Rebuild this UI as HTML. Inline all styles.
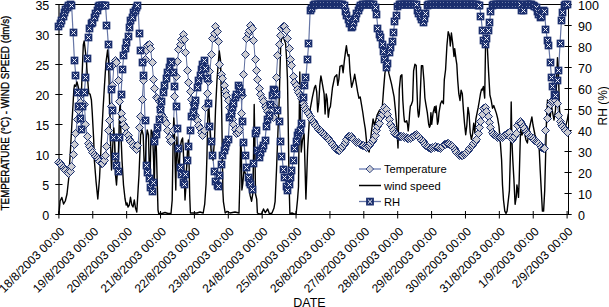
<!DOCTYPE html>
<html><head><meta charset="utf-8"><style>
html,body{margin:0;padding:0;background:#fff;}
svg{display:block;}
text{font-family:"Liberation Sans", sans-serif;fill:#000;}
</style></head><body>
<svg width="609" height="307" viewBox="0 0 609 307">
<rect width="609" height="307" fill="#fff"/>
<line x1="59" y1="4.5" x2="568.5" y2="4.5" stroke="#000" stroke-width="1"/>
<line x1="59" y1="214.5" x2="568.5" y2="214.5" stroke="#000" stroke-width="1"/>
<line x1="59" y1="4.5" x2="59" y2="214.5" stroke="#000" stroke-width="1.2"/>
<line x1="568.5" y1="4.5" x2="568.5" y2="214.5" stroke="#000" stroke-width="1"/>
<line x1="55.3" y1="214.5" x2="62.5" y2="214.5" stroke="#000" stroke-width="1"/>
<line x1="55.3" y1="184.5" x2="62.5" y2="184.5" stroke="#000" stroke-width="1"/>
<line x1="55.3" y1="154.5" x2="62.5" y2="154.5" stroke="#000" stroke-width="1"/>
<line x1="55.3" y1="124.5" x2="62.5" y2="124.5" stroke="#000" stroke-width="1"/>
<line x1="55.3" y1="94.5" x2="62.5" y2="94.5" stroke="#000" stroke-width="1"/>
<line x1="55.3" y1="64.5" x2="62.5" y2="64.5" stroke="#000" stroke-width="1"/>
<line x1="55.3" y1="34.5" x2="62.5" y2="34.5" stroke="#000" stroke-width="1"/>
<line x1="55.3" y1="4.5" x2="62.5" y2="4.5" stroke="#000" stroke-width="1"/>
<line x1="564.5" y1="214.5" x2="571.7" y2="214.5" stroke="#000" stroke-width="1"/>
<line x1="564.5" y1="193.5" x2="571.7" y2="193.5" stroke="#000" stroke-width="1"/>
<line x1="564.5" y1="172.5" x2="571.7" y2="172.5" stroke="#000" stroke-width="1"/>
<line x1="564.5" y1="151.5" x2="571.7" y2="151.5" stroke="#000" stroke-width="1"/>
<line x1="564.5" y1="130.5" x2="571.7" y2="130.5" stroke="#000" stroke-width="1"/>
<line x1="564.5" y1="109.5" x2="571.7" y2="109.5" stroke="#000" stroke-width="1"/>
<line x1="564.5" y1="88.5" x2="571.7" y2="88.5" stroke="#000" stroke-width="1"/>
<line x1="564.5" y1="67.5" x2="571.7" y2="67.5" stroke="#000" stroke-width="1"/>
<line x1="564.5" y1="46.5" x2="571.7" y2="46.5" stroke="#000" stroke-width="1"/>
<line x1="564.5" y1="25.5" x2="571.7" y2="25.5" stroke="#000" stroke-width="1"/>
<line x1="564.5" y1="4.5" x2="571.7" y2="4.5" stroke="#000" stroke-width="1"/>
<line x1="58.90" y1="211" x2="58.90" y2="218.5" stroke="#000" stroke-width="1"/>
<line x1="92.78" y1="211" x2="92.78" y2="218.5" stroke="#000" stroke-width="1"/>
<line x1="126.66" y1="211" x2="126.66" y2="218.5" stroke="#000" stroke-width="1"/>
<line x1="160.54" y1="211" x2="160.54" y2="218.5" stroke="#000" stroke-width="1"/>
<line x1="194.42" y1="211" x2="194.42" y2="218.5" stroke="#000" stroke-width="1"/>
<line x1="228.30" y1="211" x2="228.30" y2="218.5" stroke="#000" stroke-width="1"/>
<line x1="262.18" y1="211" x2="262.18" y2="218.5" stroke="#000" stroke-width="1"/>
<line x1="296.06" y1="211" x2="296.06" y2="218.5" stroke="#000" stroke-width="1"/>
<line x1="329.94" y1="211" x2="329.94" y2="218.5" stroke="#000" stroke-width="1"/>
<line x1="363.82" y1="211" x2="363.82" y2="218.5" stroke="#000" stroke-width="1"/>
<line x1="397.70" y1="211" x2="397.70" y2="218.5" stroke="#000" stroke-width="1"/>
<line x1="431.58" y1="211" x2="431.58" y2="218.5" stroke="#000" stroke-width="1"/>
<line x1="465.46" y1="211" x2="465.46" y2="218.5" stroke="#000" stroke-width="1"/>
<line x1="499.34" y1="211" x2="499.34" y2="218.5" stroke="#000" stroke-width="1"/>
<line x1="533.22" y1="211" x2="533.22" y2="218.5" stroke="#000" stroke-width="1"/>
<line x1="567.10" y1="211" x2="567.10" y2="218.5" stroke="#000" stroke-width="1"/>
<g>
<path d="M58.90,162.00 L60.31,163.60 L61.72,165.41 L63.13,167.58 L64.55,169.25 L65.96,170.66 L67.37,172.76 L68.78,173.95 L70.19,171.18 L71.61,166.00 L73.02,154.00 L74.43,144.00 L75.84,133.60 L77.25,119.00 L78.66,110.00 L80.08,102.00 L81.49,94.00 L82.90,93.00 L84.31,104.00 L85.72,124.00 L87.13,136.00 L88.55,143.00 L89.96,146.50 L91.37,149.90 L92.78,152.50 L94.19,154.40 L95.60,156.00 L97.02,157.50 L98.43,159.50 L99.84,161.30 L101.25,163.00 L102.66,163.50 L104.07,160.00 L105.49,155.00 L106.90,146.00 L108.31,130.00 L109.72,120.00 L111.13,106.00 L112.54,85.55 L113.96,64.01 L115.37,60.00 L116.78,62.00 L118.19,80.80 L119.60,101.20 L121.01,113.00 L122.43,119.90 L123.84,124.00 L125.25,127.20 L126.66,133.47 L128.07,135.65 L129.48,139.94 L130.90,141.84 L132.31,143.90 L133.72,146.07 L135.13,148.17 L136.54,149.28 L137.95,145.63 L139.37,127.50 L140.78,116.50 L142.19,99.30 L143.60,80.00 L145.01,59.50 L146.42,50.00 L147.84,45.50 L149.25,44.50 L150.66,48.80 L152.07,62.50 L153.48,79.10 L154.89,88.80 L156.31,97.60 L157.72,98.57 L159.13,101.45 L160.54,107.85 L161.95,114.31 L163.36,117.19 L164.78,120.30 L166.19,123.75 L167.60,130.61 L169.01,137.13 L170.42,141.37 L171.83,140.98 L173.25,130.07 L174.66,96.90 L176.07,76.60 L177.48,61.00 L178.89,49.30 L180.30,44.40 L181.72,39.50 L183.13,34.60 L184.54,39.50 L185.95,52.20 L187.36,70.80 L188.77,82.20 L190.19,91.00 L191.60,99.80 L193.01,103.00 L194.42,105.70 L195.83,115.98 L197.24,120.73 L198.66,125.39 L200.07,128.98 L201.48,132.28 L202.89,135.16 L204.30,130.99 L205.71,107.87 L207.13,93.75 L208.54,81.61 L209.95,71.80 L211.36,54.20 L212.77,38.60 L214.18,33.70 L215.60,26.80 L217.01,31.70 L218.42,41.50 L219.83,64.90 L221.24,74.70 L222.65,78.61 L224.07,85.74 L225.48,91.17 L226.89,95.65 L228.30,100.80 L229.71,107.42 L231.12,113.95 L232.54,119.78 L233.95,124.49 L235.36,129.13 L236.77,133.59 L238.18,132.77 L239.59,129.41 L241.01,113.43 L242.42,95.85 L243.83,74.16 L245.24,54.06 L246.65,38.43 L248.06,33.82 L249.48,30.18 L250.89,25.20 L252.30,28.92 L253.71,40.76 L255.12,59.09 L256.53,70.82 L257.94,79.88 L259.36,88.53 L260.77,94.56 L262.18,98.06 L263.59,101.91 L265.00,106.03 L266.42,108.77 L267.83,111.13 L269.24,113.35 L270.65,114.82 L272.06,116.21 L273.47,117.51 L274.88,107.38 L276.30,77.60 L277.71,55.20 L279.12,44.40 L280.53,35.60 L281.94,28.80 L283.36,26.80 L284.77,26.00 L286.18,30.70 L287.59,38.60 L289.00,48.30 L290.41,59.10 L291.83,65.90 L293.24,76.60 L294.65,82.00 L296.06,85.90 L297.47,89.80 L298.88,92.70 L300.30,95.70 L301.71,98.00 L303.12,103.64 L304.53,106.26 L305.94,109.08 L307.35,111.58 L308.77,113.70 L310.18,116.25 L311.59,119.08 L313.00,121.35 L314.41,123.47 L315.82,125.64 L317.24,127.73 L318.65,129.15 L320.06,130.56 L321.47,131.97 L322.88,133.38 L324.29,134.79 L325.70,136.18 L327.12,137.53 L328.53,138.93 L329.94,140.34 L331.35,142.33 L332.76,144.44 L334.18,146.56 L335.59,148.59 L337.00,150.00 L338.41,150.79 L339.82,150.09 L341.23,148.75 L342.65,146.63 L344.06,144.51 L345.47,142.40 L346.88,139.74 L348.29,136.92 L349.70,136.70 L351.12,136.81 L352.53,138.23 L353.94,139.64 L355.35,141.05 L356.76,142.18 L358.17,142.89 L359.59,143.59 L361.00,144.30 L362.41,145.00 L363.82,145.71 L365.23,146.42 L366.64,147.08 L368.06,146.37 L369.47,145.40 L370.88,143.28 L372.29,141.16 L373.70,139.05 L375.11,135.56 L376.53,130.73 L377.94,126.81 L379.35,123.37 L380.76,117.85 L382.17,114.41 L383.58,110.30 L385.00,107.78 L386.41,109.87 L387.82,114.43 L389.23,119.08 L390.64,124.31 L392.05,127.89 L393.47,130.99 L394.88,133.08 L396.29,134.65 L397.70,135.80 L399.11,136.05 L400.52,136.29 L401.94,136.54 L403.35,136.78 L404.76,137.06 L406.17,137.63 L407.58,138.19 L408.99,138.76 L410.41,138.42 L411.82,137.39 L413.23,136.37 L414.64,135.35 L416.05,134.32 L417.46,135.10 L418.88,136.71 L420.29,138.36 L421.70,140.12 L423.11,141.89 L424.52,143.65 L425.93,145.15 L427.35,146.40 L428.76,147.65 L430.17,148.90 L431.58,148.51 L432.99,147.80 L434.40,147.10 L435.81,146.58 L437.23,147.09 L438.64,147.61 L440.05,148.13 L441.46,147.70 L442.87,146.20 L444.29,144.84 L445.70,144.07 L447.11,143.30 L448.52,143.96 L449.93,144.84 L451.34,145.72 L452.76,146.71 L454.17,148.64 L455.58,150.57 L456.99,152.49 L458.40,154.05 L459.81,155.11 L461.23,155.95 L462.64,155.67 L464.05,154.67 L465.46,153.42 L466.87,152.18 L468.28,150.88 L469.70,148.86 L471.11,146.85 L472.52,145.18 L473.93,143.77 L475.34,141.84 L476.75,139.72 L478.17,133.17 L479.58,127.49 L480.99,121.64 L482.40,114.50 L483.81,108.68 L485.22,107.95 L486.64,111.41 L488.05,116.39 L489.46,122.10 L490.87,127.78 L492.28,132.35 L493.69,134.19 L495.11,135.60 L496.52,136.31 L497.93,137.01 L499.34,137.72 L500.75,137.97 L502.16,137.27 L503.58,136.56 L504.99,135.86 L506.40,134.70 L507.81,133.29 L509.22,132.32 L510.63,137.23 L512.05,139.25 L513.46,137.84 L514.87,136.43 L516.28,133.71 L517.69,125.69 L519.10,122.37 L520.52,121.72 L521.93,123.81 L523.34,126.15 L524.75,128.92 L526.16,131.22 L527.57,133.27 L528.99,134.69 L530.40,136.10 L531.81,137.51 L533.22,138.92 L534.63,140.19 L536.04,141.15 L537.46,142.10 L538.87,143.47 L540.28,145.06 L541.69,147.15 L543.10,148.33 L544.51,148.00 L545.93,130.00 L547.34,118.00 L548.75,110.00 L550.16,104.00 L551.57,101.00 L552.98,100.00 L554.40,99.50 L555.81,100.00 L557.22,103.00 L558.63,115.00 L560.04,121.00 L561.45,124.50 L562.87,126.50 L564.28,128.50 L565.69,130.50 L567.10,132.00" fill="none" stroke="#5f6f9f" stroke-width="1"/>
<path d="M58.90,26.00 L60.31,23.50 L61.72,20.00 L63.13,16.50 L64.55,12.70 L65.96,9.50 L67.37,7.00 L68.78,5.50 L70.19,4.80 L71.61,5.00 L73.02,32.00 L74.43,60.50 L75.84,75.40 L77.25,92.00 L78.66,106.00 L80.08,118.00 L81.49,129.00 L82.90,106.00 L84.31,92.00 L85.72,77.00 L87.13,58.30 L88.55,37.80 L89.96,28.80 L91.37,23.30 L92.78,22.00 L94.19,17.70 L95.60,13.30 L97.02,10.00 L98.43,6.60 L99.84,5.50 L101.25,5.00 L102.66,5.00 L104.07,5.00 L105.49,5.20 L106.90,25.00 L108.31,44.00 L109.72,66.50 L111.13,89.00 L112.54,110.00 L113.96,137.00 L115.37,156.50 L116.78,165.50 L118.19,171.20 L119.60,137.00 L121.01,94.30 L122.43,69.30 L123.84,55.00 L125.25,48.50 L126.66,42.00 L128.07,36.70 L129.48,27.30 L130.90,20.50 L132.31,17.60 L133.72,12.70 L135.13,10.00 L136.54,7.50 L137.95,5.50 L139.37,33.50 L140.78,50.50 L142.19,62.00 L143.60,75.00 L145.01,120.00 L146.42,165.40 L147.84,172.00 L149.25,178.10 L150.66,187.90 L152.07,191.80 L153.48,182.00 L154.89,141.00 L156.31,134.80 L157.72,127.00 L159.13,119.00 L160.54,109.00 L161.95,101.60 L163.36,92.80 L164.78,85.00 L166.19,78.00 L167.60,72.00 L169.01,67.00 L170.42,61.00 L171.83,62.00 L173.25,72.00 L174.66,86.00 L176.07,106.00 L177.48,128.00 L178.89,148.00 L180.30,167.70 L181.72,174.50 L183.13,182.00 L184.54,184.30 L185.95,174.50 L187.36,160.00 L188.77,146.00 L190.19,130.00 L191.60,116.00 L193.01,112.00 L194.42,105.00 L195.83,100.00 L197.24,87.00 L198.66,80.00 L200.07,75.00 L201.48,69.00 L202.89,64.00 L204.30,60.50 L205.71,68.00 L207.13,78.00 L208.54,103.00 L209.95,126.00 L211.36,141.00 L212.77,155.50 L214.18,171.60 L215.60,181.80 L217.01,185.00 L218.42,186.20 L219.83,175.00 L221.24,164.30 L222.65,155.50 L224.07,150.00 L225.48,146.70 L226.89,142.00 L228.30,139.00 L229.71,117.70 L231.12,113.30 L232.54,107.40 L233.95,103.00 L235.36,97.20 L236.77,94.30 L238.18,85.50 L239.59,88.40 L241.01,92.80 L242.42,121.70 L243.83,142.30 L245.24,155.50 L246.65,167.20 L248.06,177.40 L249.48,182.00 L250.89,184.80 L252.30,189.20 L253.71,163.30 L255.12,133.60 L256.53,130.40 L257.94,150.00 L259.36,157.00 L260.77,152.30 L262.18,148.00 L263.59,145.80 L265.00,140.10 L266.42,126.30 L267.83,119.80 L269.24,115.20 L270.65,104.40 L272.06,95.60 L273.47,89.80 L274.88,90.00 L276.30,94.60 L277.71,110.30 L279.12,121.00 L280.53,141.00 L281.94,156.00 L283.36,169.60 L284.77,177.00 L286.18,186.00 L287.59,190.50 L289.00,184.00 L290.41,177.00 L291.83,170.00 L293.24,160.00 L294.65,148.60 L296.06,141.00 L297.47,135.30 L298.88,132.00 L300.30,130.20 L301.71,123.30 L303.12,97.00 L304.53,85.00 L305.94,77.00 L307.35,59.50 L308.77,43.00 L310.18,10.00 L311.59,8.00 L313.00,5.00 L314.41,4.60 L315.82,4.60 L317.24,4.60 L318.65,4.60 L320.06,4.60 L321.47,4.60 L322.88,4.60 L324.29,4.60 L325.70,4.60 L327.12,4.60 L328.53,4.60 L329.94,4.60 L331.35,4.60 L332.76,4.60 L334.18,4.60 L335.59,4.60 L337.00,4.60 L338.41,4.60 L339.82,4.60 L341.23,4.60 L342.65,4.80 L344.06,5.50 L345.47,11.00 L346.88,15.00 L348.29,19.00 L349.70,23.00 L351.12,27.00 L352.53,26.00 L353.94,22.00 L355.35,18.00 L356.76,13.50 L358.17,10.00 L359.59,7.00 L361.00,5.00 L362.41,4.80 L363.82,4.79 L365.23,4.60 L366.64,4.60 L368.06,4.60 L369.47,4.60 L370.88,4.60 L372.29,4.60 L373.70,4.60 L375.11,7.76 L376.53,14.61 L377.94,28.94 L379.35,34.87 L380.76,37.20 L382.17,44.20 L383.58,51.66 L385.00,59.80 L386.41,67.31 L387.82,63.32 L389.23,52.25 L390.64,47.08 L392.05,41.79 L393.47,32.07 L394.88,21.05 L396.29,15.22 L397.70,6.88 L399.11,4.88 L400.52,4.86 L401.94,4.84 L403.35,4.81 L404.76,4.79 L406.17,4.77 L407.58,4.74 L408.99,4.72 L410.41,4.70 L411.82,4.67 L413.23,4.65 L414.64,4.63 L416.05,4.61 L417.46,10.88 L418.88,13.46 L420.29,16.27 L421.70,19.72 L423.11,22.08 L424.52,18.44 L425.93,13.68 L427.35,5.86 L428.76,4.89 L430.17,4.88 L431.58,4.88 L432.99,4.87 L434.40,4.86 L435.81,4.85 L437.23,4.84 L438.64,4.84 L440.05,4.83 L441.46,4.82 L442.87,4.81 L444.29,4.80 L445.70,4.79 L447.11,4.79 L448.52,4.78 L449.93,4.77 L451.34,4.76 L452.76,4.75 L454.17,4.75 L455.58,4.74 L456.99,4.73 L458.40,4.72 L459.81,4.71 L461.23,4.70 L462.64,4.70 L464.05,4.69 L465.46,4.68 L466.87,4.67 L468.28,4.66 L469.70,4.66 L471.11,4.65 L472.52,4.64 L473.93,4.63 L475.34,4.62 L476.75,4.61 L478.17,5.00 L479.58,5.00 L480.99,16.00 L482.40,30.80 L483.81,40.00 L485.22,44.50 L486.64,38.80 L488.05,30.00 L489.46,22.80 L490.87,11.40 L492.28,5.00 L493.69,4.89 L495.11,4.88 L496.52,4.86 L497.93,4.84 L499.34,4.83 L500.75,4.81 L502.16,4.80 L503.58,4.78 L504.99,4.77 L506.40,4.75 L507.81,4.74 L509.22,4.72 L510.63,4.71 L512.05,4.69 L513.46,4.68 L514.87,4.66 L516.28,4.65 L517.69,4.63 L519.10,4.62 L520.52,4.60 L521.93,10.15 L523.34,10.30 L524.75,4.60 L526.16,4.60 L527.57,4.60 L528.99,4.60 L530.40,4.60 L531.81,4.60 L533.22,5.00 L534.63,6.00 L536.04,7.00 L537.46,11.40 L538.87,14.80 L540.28,17.10 L541.69,16.00 L543.10,10.30 L544.51,11.40 L545.93,29.60 L547.34,40.00 L548.75,45.60 L550.16,62.00 L551.57,77.60 L552.98,86.00 L554.40,94.00 L555.81,95.90 L557.22,80.00 L558.63,70.00 L560.04,43.30 L561.45,20.50 L562.87,12.50 L564.28,5.00 L565.69,4.60 L567.10,4.60" fill="none" stroke="#6676a6" stroke-width="1.2"/>
<path d="M58.90,214.00 L60.10,201.00 L61.80,197.50 L63.60,204.00 L65.30,201.00 L67.00,194.00 L68.70,178.50 L70.40,151.00 L72.10,120.00 L73.30,100.00 L73.80,90.00 L74.50,85.00 L75.70,86.30 L77.00,82.00 L78.50,88.00 L80.00,95.00 L81.50,90.00 L82.30,70.00 L83.30,45.00 L84.20,41.00 L85.00,48.00 L86.30,60.00 L87.50,78.00 L88.80,93.50 L90.10,94.10 L91.40,100.00 L92.20,112.00 L93.70,140.00 L94.40,161.00 L96.10,182.00 L97.80,199.00 L99.50,178.50 L101.20,144.00 L103.00,110.00 L104.50,85.00 L106.00,62.00 L107.60,50.00 L108.50,60.00 L109.50,100.00 L110.50,140.00 L111.50,170.00 L112.50,150.00 L113.80,128.00 L114.60,140.00 L115.50,175.00 L116.50,185.00 L117.50,170.00 L118.50,150.00 L119.60,110.00 L120.20,103.00 L120.80,130.00 L122.00,160.00 L123.50,185.00 L125.00,198.50 L126.20,205.00 L127.00,203.00 L128.00,207.00 L129.30,205.00 L130.50,197.30 L131.80,205.00 L133.00,207.00 L134.30,200.00 L135.50,208.00 L136.80,212.00 L138.20,188.00 L139.00,175.00 L140.00,150.00 L140.60,135.00 L142.00,130.00 L143.20,135.00 L144.20,165.00 L145.20,168.00 L146.20,140.00 L147.20,130.00 L148.50,135.00 L149.30,170.00 L150.00,185.00 L150.60,150.00 L151.20,130.00 L152.50,133.00 L153.60,160.00 L154.30,185.00 L155.00,150.00 L155.60,135.00 L156.40,150.00 L157.30,185.00 L158.00,210.00 L158.70,213.50 L162.00,213.50 L165.00,212.50 L168.00,213.50 L171.00,213.50 L172.20,200.00 L172.80,160.00 L173.30,130.00 L173.80,118.00 L174.30,125.00 L175.00,160.00 L175.80,190.00 L176.30,160.00 L176.90,137.00 L177.50,150.00 L178.50,170.00 L179.50,160.00 L180.60,145.00 L181.60,140.00 L182.60,138.00 L183.30,150.00 L184.20,175.00 L185.00,200.00 L185.70,190.00 L186.50,170.00 L187.50,150.00 L188.40,140.00 L189.00,160.00 L189.70,195.00 L190.40,213.00 L193.00,213.00 L197.00,213.00 L200.00,212.00 L203.20,213.00 L204.70,204.20 L206.10,183.60 L207.00,154.30 L207.60,125.00 L208.50,100.00 L209.50,120.00 L211.00,150.00 L213.00,160.00 L214.50,140.00 L215.50,110.00 L217.00,80.00 L218.50,60.00 L219.30,51.00 L220.50,60.00 L221.50,100.00 L222.30,150.00 L222.90,192.00 L223.40,201.60 L225.20,213.00 L227.10,211.40 L230.00,213.00 L235.00,212.00 L239.00,213.00 L239.90,180.00 L240.60,140.00 L241.30,150.00 L241.90,190.00 L242.80,183.60 L244.00,170.00 L246.00,175.00 L248.00,180.00 L249.30,189.30 L250.10,195.40 L251.60,201.20 L253.00,192.40 L253.70,140.00 L254.20,104.50 L254.80,140.00 L255.50,194.00 L256.70,199.10 L257.40,213.00 L259.10,214.00 L261.60,214.00 L263.50,209.00 L265.30,212.70 L267.70,209.00 L269.50,214.00 L272.00,213.00 L274.00,208.00 L275.10,201.60 L276.50,170.00 L278.00,130.00 L279.20,100.00 L280.00,70.00 L280.70,45.00 L281.50,39.00 L282.60,37.00 L284.00,39.00 L285.60,43.40 L286.60,59.00 L287.50,80.00 L288.30,130.00 L289.00,180.00 L289.90,214.00 L292.00,213.00 L294.00,214.00 L296.10,214.00 L297.50,200.00 L298.50,186.80 L299.30,110.00 L299.80,72.00 L300.50,120.00 L301.20,152.00 L302.50,140.00 L304.10,134.00 L304.70,154.80 L305.90,199.10 L306.80,175.00 L307.60,150.00 L309.30,120.00 L310.30,108.70 L312.40,97.10 L314.50,87.50 L315.60,85.40 L316.70,91.80 L317.70,111.90 L318.80,102.40 L319.80,85.40 L320.90,75.90 L321.90,81.20 L324.10,93.90 L325.10,114.00 L326.20,93.90 L327.20,99.20 L328.30,117.20 L329.40,108.70 L330.40,106.60 L332.50,87.50 L334.70,76.90 L336.80,74.80 L337.80,85.40 L338.90,79.10 L340.00,66.40 L342.10,65.30 L343.10,72.70 L344.30,61.30 L345.60,50.80 L346.40,45.60 L347.40,53.40 L348.20,56.00 L349.00,54.70 L350.00,71.70 L351.60,87.30 L353.40,80.80 L354.70,74.30 L356.00,82.10 L357.60,91.70 L358.90,98.20 L360.20,96.90 L361.50,104.70 L362.80,112.50 L364.00,121.00 L365.30,128.90 L366.60,141.90 L367.90,150.00 L369.20,152.00 L370.50,140.00 L371.80,128.90 L373.10,119.00 L374.50,125.50 L377.10,115.10 L379.70,109.90 L381.00,112.50 L382.30,107.30 L383.60,89.10 L384.90,73.40 L386.30,65.60 L387.60,65.60 L388.90,73.40 L391.50,83.90 L394.10,96.90 L395.40,109.90 L396.70,125.50 L398.00,148.00 L399.30,89.10 L400.60,76.00 L401.90,74.70 L402.80,100.00 L403.80,115.00 L404.50,121.40 L405.30,122.10 L406.70,120.70 L407.50,124.30 L408.20,130.90 L408.90,124.30 L409.70,112.60 L410.40,106.00 L411.10,105.30 L412.60,100.90 L413.60,70.80 L414.90,64.30 L416.20,65.60 L417.00,90.00 L417.70,109.70 L418.50,117.00 L419.20,114.10 L419.90,103.80 L421.40,65.60 L422.70,65.60 L424.00,81.30 L424.90,98.00 L425.80,103.80 L427.30,112.60 L428.70,124.30 L429.50,127.30 L430.20,125.80 L430.90,112.60 L431.70,124.30 L433.10,112.60 L434.60,106.70 L435.30,112.60 L436.10,106.00 L437.50,124.30 L438.30,121.40 L439.00,112.60 L440.50,103.80 L441.90,100.90 L443.40,103.80 L444.30,79.90 L445.60,69.50 L446.90,46.00 L448.20,31.70 L449.50,35.60 L450.30,46.00 L451.40,33.00 L452.70,43.40 L454.00,56.50 L454.70,48.60 L456.00,59.10 L456.80,64.30 L457.70,80.00 L458.80,93.70 L460.00,100.50 L461.10,90.30 L462.30,93.70 L463.40,109.60 L464.50,123.30 L465.70,134.70 L466.80,125.60 L468.00,107.40 L469.10,114.20 L470.20,132.50 L471.40,139.30 L472.50,134.70 L473.70,123.30 L474.80,132.50 L475.90,118.80 L478.20,107.40 L479.40,100.50 L480.50,93.70 L481.60,89.10 L482.10,90.30 L483.40,86.40 L484.70,98.10 L485.50,48.60 L486.20,40.80 L487.30,46.00 L488.60,72.10 L489.90,95.00 L491.20,100.40 L492.50,108.20 L493.80,105.60 L495.10,109.50 L496.40,113.40 L497.70,118.60 L499.00,126.50 L500.30,142.10 L501.60,160.00 L502.50,185.00 L503.50,200.00 L504.80,211.10 L506.00,213.40 L507.10,211.10 L509.40,190.60 L510.50,150.00 L511.20,102.00 L511.90,140.00 L512.80,160.00 L513.90,179.20 L515.10,204.30 L516.20,197.40 L516.90,184.90 L517.80,190.60 L518.50,197.40 L519.20,179.20 L520.10,145.00 L520.60,129.60 L522.00,135.00 L524.00,130.00 L526.00,140.00 L527.40,143.00 L529.00,130.00 L531.90,117.00 L533.00,125.00 L535.00,135.00 L537.00,140.00 L539.00,145.00 L540.20,170.00 L541.30,190.60 L542.40,211.10 L543.60,211.10 L544.70,190.60 L545.90,145.00 L546.50,120.00 L547.50,100.00 L549.00,110.00 L550.10,119.30 L551.30,104.60 L552.50,112.00 L554.00,120.00 L555.50,110.00 L556.50,80.00 L557.50,57.60 L558.50,75.00 L559.50,110.00 L561.00,120.00 L562.00,125.00 L564.90,129.10 L567.40,119.30 L568.40,113.70" fill="none" stroke="#000" stroke-width="1.4" stroke-linejoin="round"/>
<g fill="#cdcdd2" stroke="#1a2f6e" stroke-width="1.0"><path d="M58.50,158.50L62.50,162.50L58.50,166.50L54.50,162.50Z"/><path d="M60.50,159.50L64.50,163.50L60.50,167.50L56.50,163.50Z"/><path d="M61.50,161.50L65.50,165.50L61.50,169.50L57.50,165.50Z"/><path d="M63.50,163.50L67.50,167.50L63.50,171.50L59.50,167.50Z"/><path d="M64.50,165.50L68.50,169.50L64.50,173.50L60.50,169.50Z"/><path d="M65.50,166.50L69.50,170.50L65.50,174.50L61.50,170.50Z"/><path d="M67.50,168.50L71.50,172.50L67.50,176.50L63.50,172.50Z"/><path d="M68.50,169.50L72.50,173.50L68.50,177.50L64.50,173.50Z"/><path d="M70.50,167.50L74.50,171.50L70.50,175.50L66.50,171.50Z"/><path d="M71.50,162.50L75.50,166.50L71.50,170.50L67.50,166.50Z"/><path d="M73.50,150.50L77.50,154.50L73.50,158.50L69.50,154.50Z"/><path d="M74.50,140.50L78.50,144.50L74.50,148.50L70.50,144.50Z"/><path d="M75.50,129.50L79.50,133.50L75.50,137.50L71.50,133.50Z"/><path d="M77.50,115.50L81.50,119.50L77.50,123.50L73.50,119.50Z"/><path d="M78.50,106.50L82.50,110.50L78.50,114.50L74.50,110.50Z"/><path d="M80.50,98.50L84.50,102.50L80.50,106.50L76.50,102.50Z"/><path d="M81.50,90.50L85.50,94.50L81.50,98.50L77.50,94.50Z"/><path d="M82.50,89.50L86.50,93.50L82.50,97.50L78.50,93.50Z"/><path d="M84.50,100.50L88.50,104.50L84.50,108.50L80.50,104.50Z"/><path d="M85.50,120.50L89.50,124.50L85.50,128.50L81.50,124.50Z"/><path d="M87.50,132.50L91.50,136.50L87.50,140.50L83.50,136.50Z"/><path d="M88.50,139.50L92.50,143.50L88.50,147.50L84.50,143.50Z"/><path d="M89.50,142.50L93.50,146.50L89.50,150.50L85.50,146.50Z"/><path d="M91.50,145.50L95.50,149.50L91.50,153.50L87.50,149.50Z"/><path d="M92.50,148.50L96.50,152.50L92.50,156.50L88.50,152.50Z"/><path d="M94.50,150.50L98.50,154.50L94.50,158.50L90.50,154.50Z"/><path d="M95.50,152.50L99.50,156.50L95.50,160.50L91.50,156.50Z"/><path d="M97.50,153.50L101.50,157.50L97.50,161.50L93.50,157.50Z"/><path d="M98.50,155.50L102.50,159.50L98.50,163.50L94.50,159.50Z"/><path d="M99.50,157.50L103.50,161.50L99.50,165.50L95.50,161.50Z"/><path d="M101.50,159.50L105.50,163.50L101.50,167.50L97.50,163.50Z"/><path d="M102.50,159.50L106.50,163.50L102.50,167.50L98.50,163.50Z"/><path d="M104.50,156.50L108.50,160.50L104.50,164.50L100.50,160.50Z"/><path d="M105.50,151.50L109.50,155.50L105.50,159.50L101.50,155.50Z"/><path d="M106.50,142.50L110.50,146.50L106.50,150.50L102.50,146.50Z"/><path d="M108.50,126.50L112.50,130.50L108.50,134.50L104.50,130.50Z"/><path d="M109.50,116.50L113.50,120.50L109.50,124.50L105.50,120.50Z"/><path d="M111.50,102.50L115.50,106.50L111.50,110.50L107.50,106.50Z"/><path d="M112.50,81.50L116.50,85.50L112.50,89.50L108.50,85.50Z"/><path d="M113.50,60.50L117.50,64.50L113.50,68.50L109.50,64.50Z"/><path d="M115.50,56.50L119.50,60.50L115.50,64.50L111.50,60.50Z"/><path d="M116.50,58.50L120.50,62.50L116.50,66.50L112.50,62.50Z"/><path d="M118.50,76.50L122.50,80.50L118.50,84.50L114.50,80.50Z"/><path d="M119.50,97.50L123.50,101.50L119.50,105.50L115.50,101.50Z"/><path d="M121.50,109.50L125.50,113.50L121.50,117.50L117.50,113.50Z"/><path d="M122.50,115.50L126.50,119.50L122.50,123.50L118.50,119.50Z"/><path d="M123.50,120.50L127.50,124.50L123.50,128.50L119.50,124.50Z"/><path d="M125.50,123.50L129.50,127.50L125.50,131.50L121.50,127.50Z"/><path d="M126.50,129.50L130.50,133.50L126.50,137.50L122.50,133.50Z"/><path d="M128.50,131.50L132.50,135.50L128.50,139.50L124.50,135.50Z"/><path d="M129.50,135.50L133.50,139.50L129.50,143.50L125.50,139.50Z"/><path d="M130.50,137.50L134.50,141.50L130.50,145.50L126.50,141.50Z"/><path d="M132.50,139.50L136.50,143.50L132.50,147.50L128.50,143.50Z"/><path d="M133.50,142.50L137.50,146.50L133.50,150.50L129.50,146.50Z"/><path d="M135.50,144.50L139.50,148.50L135.50,152.50L131.50,148.50Z"/><path d="M136.50,145.50L140.50,149.50L136.50,153.50L132.50,149.50Z"/><path d="M137.50,141.50L141.50,145.50L137.50,149.50L133.50,145.50Z"/><path d="M139.50,123.50L143.50,127.50L139.50,131.50L135.50,127.50Z"/><path d="M140.50,112.50L144.50,116.50L140.50,120.50L136.50,116.50Z"/><path d="M142.50,95.50L146.50,99.50L142.50,103.50L138.50,99.50Z"/><path d="M143.50,76.50L147.50,80.50L143.50,84.50L139.50,80.50Z"/><path d="M145.50,55.50L149.50,59.50L145.50,63.50L141.50,59.50Z"/><path d="M146.50,46.50L150.50,50.50L146.50,54.50L142.50,50.50Z"/><path d="M147.50,41.50L151.50,45.50L147.50,49.50L143.50,45.50Z"/><path d="M149.50,40.50L153.50,44.50L149.50,48.50L145.50,44.50Z"/><path d="M150.50,44.50L154.50,48.50L150.50,52.50L146.50,48.50Z"/><path d="M152.50,58.50L156.50,62.50L152.50,66.50L148.50,62.50Z"/><path d="M153.50,75.50L157.50,79.50L153.50,83.50L149.50,79.50Z"/><path d="M154.50,84.50L158.50,88.50L154.50,92.50L150.50,88.50Z"/><path d="M156.50,93.50L160.50,97.50L156.50,101.50L152.50,97.50Z"/><path d="M157.50,94.50L161.50,98.50L157.50,102.50L153.50,98.50Z"/><path d="M159.50,97.50L163.50,101.50L159.50,105.50L155.50,101.50Z"/><path d="M160.50,103.50L164.50,107.50L160.50,111.50L156.50,107.50Z"/><path d="M161.50,110.50L165.50,114.50L161.50,118.50L157.50,114.50Z"/><path d="M163.50,113.50L167.50,117.50L163.50,121.50L159.50,117.50Z"/><path d="M164.50,116.50L168.50,120.50L164.50,124.50L160.50,120.50Z"/><path d="M166.50,119.50L170.50,123.50L166.50,127.50L162.50,123.50Z"/><path d="M167.50,126.50L171.50,130.50L167.50,134.50L163.50,130.50Z"/><path d="M169.50,133.50L173.50,137.50L169.50,141.50L165.50,137.50Z"/><path d="M170.50,137.50L174.50,141.50L170.50,145.50L166.50,141.50Z"/><path d="M171.50,136.50L175.50,140.50L171.50,144.50L167.50,140.50Z"/><path d="M173.50,126.50L177.50,130.50L173.50,134.50L169.50,130.50Z"/><path d="M174.50,92.50L178.50,96.50L174.50,100.50L170.50,96.50Z"/><path d="M176.50,72.50L180.50,76.50L176.50,80.50L172.50,76.50Z"/><path d="M177.50,57.50L181.50,61.50L177.50,65.50L173.50,61.50Z"/><path d="M178.50,45.50L182.50,49.50L178.50,53.50L174.50,49.50Z"/><path d="M180.50,40.50L184.50,44.50L180.50,48.50L176.50,44.50Z"/><path d="M181.50,35.50L185.50,39.50L181.50,43.50L177.50,39.50Z"/><path d="M183.50,30.50L187.50,34.50L183.50,38.50L179.50,34.50Z"/><path d="M184.50,35.50L188.50,39.50L184.50,43.50L180.50,39.50Z"/><path d="M185.50,48.50L189.50,52.50L185.50,56.50L181.50,52.50Z"/><path d="M187.50,66.50L191.50,70.50L187.50,74.50L183.50,70.50Z"/><path d="M188.50,78.50L192.50,82.50L188.50,86.50L184.50,82.50Z"/><path d="M190.50,87.50L194.50,91.50L190.50,95.50L186.50,91.50Z"/><path d="M191.50,95.50L195.50,99.50L191.50,103.50L187.50,99.50Z"/><path d="M193.50,99.50L197.50,103.50L193.50,107.50L189.50,103.50Z"/><path d="M194.50,101.50L198.50,105.50L194.50,109.50L190.50,105.50Z"/><path d="M195.50,111.50L199.50,115.50L195.50,119.50L191.50,115.50Z"/><path d="M197.50,116.50L201.50,120.50L197.50,124.50L193.50,120.50Z"/><path d="M198.50,121.50L202.50,125.50L198.50,129.50L194.50,125.50Z"/><path d="M200.50,124.50L204.50,128.50L200.50,132.50L196.50,128.50Z"/><path d="M201.50,128.50L205.50,132.50L201.50,136.50L197.50,132.50Z"/><path d="M202.50,131.50L206.50,135.50L202.50,139.50L198.50,135.50Z"/><path d="M204.50,126.50L208.50,130.50L204.50,134.50L200.50,130.50Z"/><path d="M205.50,103.50L209.50,107.50L205.50,111.50L201.50,107.50Z"/><path d="M207.50,89.50L211.50,93.50L207.50,97.50L203.50,93.50Z"/><path d="M208.50,77.50L212.50,81.50L208.50,85.50L204.50,81.50Z"/><path d="M209.50,67.50L213.50,71.50L209.50,75.50L205.50,71.50Z"/><path d="M211.50,50.50L215.50,54.50L211.50,58.50L207.50,54.50Z"/><path d="M212.50,34.50L216.50,38.50L212.50,42.50L208.50,38.50Z"/><path d="M214.50,29.50L218.50,33.50L214.50,37.50L210.50,33.50Z"/><path d="M215.50,22.50L219.50,26.50L215.50,30.50L211.50,26.50Z"/><path d="M217.50,27.50L221.50,31.50L217.50,35.50L213.50,31.50Z"/><path d="M218.50,37.50L222.50,41.50L218.50,45.50L214.50,41.50Z"/><path d="M219.50,60.50L223.50,64.50L219.50,68.50L215.50,64.50Z"/><path d="M221.50,70.50L225.50,74.50L221.50,78.50L217.50,74.50Z"/><path d="M222.50,74.50L226.50,78.50L222.50,82.50L218.50,78.50Z"/><path d="M224.50,81.50L228.50,85.50L224.50,89.50L220.50,85.50Z"/><path d="M225.50,87.50L229.50,91.50L225.50,95.50L221.50,91.50Z"/><path d="M226.50,91.50L230.50,95.50L226.50,99.50L222.50,95.50Z"/><path d="M228.50,96.50L232.50,100.50L228.50,104.50L224.50,100.50Z"/><path d="M229.50,103.50L233.50,107.50L229.50,111.50L225.50,107.50Z"/><path d="M231.50,109.50L235.50,113.50L231.50,117.50L227.50,113.50Z"/><path d="M232.50,115.50L236.50,119.50L232.50,123.50L228.50,119.50Z"/><path d="M233.50,120.50L237.50,124.50L233.50,128.50L229.50,124.50Z"/><path d="M235.50,125.50L239.50,129.50L235.50,133.50L231.50,129.50Z"/><path d="M236.50,129.50L240.50,133.50L236.50,137.50L232.50,133.50Z"/><path d="M238.50,128.50L242.50,132.50L238.50,136.50L234.50,132.50Z"/><path d="M239.50,125.50L243.50,129.50L239.50,133.50L235.50,129.50Z"/><path d="M241.50,109.50L245.50,113.50L241.50,117.50L237.50,113.50Z"/><path d="M242.50,91.50L246.50,95.50L242.50,99.50L238.50,95.50Z"/><path d="M243.50,70.50L247.50,74.50L243.50,78.50L239.50,74.50Z"/><path d="M245.50,50.50L249.50,54.50L245.50,58.50L241.50,54.50Z"/><path d="M246.50,34.50L250.50,38.50L246.50,42.50L242.50,38.50Z"/><path d="M248.50,29.50L252.50,33.50L248.50,37.50L244.50,33.50Z"/><path d="M249.50,26.50L253.50,30.50L249.50,34.50L245.50,30.50Z"/><path d="M250.50,21.50L254.50,25.50L250.50,29.50L246.50,25.50Z"/><path d="M252.50,24.50L256.50,28.50L252.50,32.50L248.50,28.50Z"/><path d="M253.50,36.50L257.50,40.50L253.50,44.50L249.50,40.50Z"/><path d="M255.50,55.50L259.50,59.50L255.50,63.50L251.50,59.50Z"/><path d="M256.50,66.50L260.50,70.50L256.50,74.50L252.50,70.50Z"/><path d="M257.50,75.50L261.50,79.50L257.50,83.50L253.50,79.50Z"/><path d="M259.50,84.50L263.50,88.50L259.50,92.50L255.50,88.50Z"/><path d="M260.50,90.50L264.50,94.50L260.50,98.50L256.50,94.50Z"/><path d="M262.50,94.50L266.50,98.50L262.50,102.50L258.50,98.50Z"/><path d="M263.50,97.50L267.50,101.50L263.50,105.50L259.50,101.50Z"/><path d="M265.50,102.50L269.50,106.50L265.50,110.50L261.50,106.50Z"/><path d="M266.50,104.50L270.50,108.50L266.50,112.50L262.50,108.50Z"/><path d="M267.50,107.50L271.50,111.50L267.50,115.50L263.50,111.50Z"/><path d="M269.50,109.50L273.50,113.50L269.50,117.50L265.50,113.50Z"/><path d="M270.50,110.50L274.50,114.50L270.50,118.50L266.50,114.50Z"/><path d="M272.50,112.50L276.50,116.50L272.50,120.50L268.50,116.50Z"/><path d="M273.50,113.50L277.50,117.50L273.50,121.50L269.50,117.50Z"/><path d="M274.50,103.50L278.50,107.50L274.50,111.50L270.50,107.50Z"/><path d="M276.50,73.50L280.50,77.50L276.50,81.50L272.50,77.50Z"/><path d="M277.50,51.50L281.50,55.50L277.50,59.50L273.50,55.50Z"/><path d="M279.50,40.50L283.50,44.50L279.50,48.50L275.50,44.50Z"/><path d="M280.50,31.50L284.50,35.50L280.50,39.50L276.50,35.50Z"/><path d="M281.50,24.50L285.50,28.50L281.50,32.50L277.50,28.50Z"/><path d="M283.50,22.50L287.50,26.50L283.50,30.50L279.50,26.50Z"/><path d="M284.50,22.50L288.50,26.50L284.50,30.50L280.50,26.50Z"/><path d="M286.50,26.50L290.50,30.50L286.50,34.50L282.50,30.50Z"/><path d="M287.50,34.50L291.50,38.50L287.50,42.50L283.50,38.50Z"/><path d="M289.50,44.50L293.50,48.50L289.50,52.50L285.50,48.50Z"/><path d="M290.50,55.50L294.50,59.50L290.50,63.50L286.50,59.50Z"/><path d="M291.50,61.50L295.50,65.50L291.50,69.50L287.50,65.50Z"/><path d="M293.50,72.50L297.50,76.50L293.50,80.50L289.50,76.50Z"/><path d="M294.50,78.50L298.50,82.50L294.50,86.50L290.50,82.50Z"/><path d="M296.50,81.50L300.50,85.50L296.50,89.50L292.50,85.50Z"/><path d="M297.50,85.50L301.50,89.50L297.50,93.50L293.50,89.50Z"/><path d="M298.50,88.50L302.50,92.50L298.50,96.50L294.50,92.50Z"/><path d="M300.50,91.50L304.50,95.50L300.50,99.50L296.50,95.50Z"/><path d="M301.50,94.50L305.50,98.50L301.50,102.50L297.50,98.50Z"/><path d="M303.50,99.50L307.50,103.50L303.50,107.50L299.50,103.50Z"/><path d="M304.50,102.50L308.50,106.50L304.50,110.50L300.50,106.50Z"/><path d="M305.50,105.50L309.50,109.50L305.50,113.50L301.50,109.50Z"/><path d="M307.50,107.50L311.50,111.50L307.50,115.50L303.50,111.50Z"/><path d="M308.50,109.50L312.50,113.50L308.50,117.50L304.50,113.50Z"/><path d="M310.50,112.50L314.50,116.50L310.50,120.50L306.50,116.50Z"/><path d="M311.50,115.50L315.50,119.50L311.50,123.50L307.50,119.50Z"/><path d="M313.50,117.50L317.50,121.50L313.50,125.50L309.50,121.50Z"/><path d="M314.50,119.50L318.50,123.50L314.50,127.50L310.50,123.50Z"/><path d="M315.50,121.50L319.50,125.50L315.50,129.50L311.50,125.50Z"/><path d="M317.50,123.50L321.50,127.50L317.50,131.50L313.50,127.50Z"/><path d="M318.50,125.50L322.50,129.50L318.50,133.50L314.50,129.50Z"/><path d="M320.50,126.50L324.50,130.50L320.50,134.50L316.50,130.50Z"/><path d="M321.50,127.50L325.50,131.50L321.50,135.50L317.50,131.50Z"/><path d="M322.50,129.50L326.50,133.50L322.50,137.50L318.50,133.50Z"/><path d="M324.50,130.50L328.50,134.50L324.50,138.50L320.50,134.50Z"/><path d="M325.50,132.50L329.50,136.50L325.50,140.50L321.50,136.50Z"/><path d="M327.50,133.50L331.50,137.50L327.50,141.50L323.50,137.50Z"/><path d="M328.50,134.50L332.50,138.50L328.50,142.50L324.50,138.50Z"/><path d="M329.50,136.50L333.50,140.50L329.50,144.50L325.50,140.50Z"/><path d="M331.50,138.50L335.50,142.50L331.50,146.50L327.50,142.50Z"/><path d="M332.50,140.50L336.50,144.50L332.50,148.50L328.50,144.50Z"/><path d="M334.50,142.50L338.50,146.50L334.50,150.50L330.50,146.50Z"/><path d="M335.50,144.50L339.50,148.50L335.50,152.50L331.50,148.50Z"/><path d="M336.50,145.50L340.50,149.50L336.50,153.50L332.50,149.50Z"/><path d="M338.50,146.50L342.50,150.50L338.50,154.50L334.50,150.50Z"/><path d="M339.50,146.50L343.50,150.50L339.50,154.50L335.50,150.50Z"/><path d="M341.50,144.50L345.50,148.50L341.50,152.50L337.50,148.50Z"/><path d="M342.50,142.50L346.50,146.50L342.50,150.50L338.50,146.50Z"/><path d="M344.50,140.50L348.50,144.50L344.50,148.50L340.50,144.50Z"/><path d="M345.50,138.50L349.50,142.50L345.50,146.50L341.50,142.50Z"/><path d="M346.50,135.50L350.50,139.50L346.50,143.50L342.50,139.50Z"/><path d="M348.50,132.50L352.50,136.50L348.50,140.50L344.50,136.50Z"/><path d="M349.50,132.50L353.50,136.50L349.50,140.50L345.50,136.50Z"/><path d="M351.50,132.50L355.50,136.50L351.50,140.50L347.50,136.50Z"/><path d="M352.50,134.50L356.50,138.50L352.50,142.50L348.50,138.50Z"/><path d="M353.50,135.50L357.50,139.50L353.50,143.50L349.50,139.50Z"/><path d="M355.50,137.50L359.50,141.50L355.50,145.50L351.50,141.50Z"/><path d="M356.50,138.50L360.50,142.50L356.50,146.50L352.50,142.50Z"/><path d="M358.50,138.50L362.50,142.50L358.50,146.50L354.50,142.50Z"/><path d="M359.50,139.50L363.50,143.50L359.50,147.50L355.50,143.50Z"/><path d="M360.50,140.50L364.50,144.50L360.50,148.50L356.50,144.50Z"/><path d="M362.50,141.50L366.50,145.50L362.50,149.50L358.50,145.50Z"/><path d="M363.50,141.50L367.50,145.50L363.50,149.50L359.50,145.50Z"/><path d="M365.50,142.50L369.50,146.50L365.50,150.50L361.50,146.50Z"/><path d="M366.50,143.50L370.50,147.50L366.50,151.50L362.50,147.50Z"/><path d="M368.50,142.50L372.50,146.50L368.50,150.50L364.50,146.50Z"/><path d="M369.50,141.50L373.50,145.50L369.50,149.50L365.50,145.50Z"/><path d="M370.50,139.50L374.50,143.50L370.50,147.50L366.50,143.50Z"/><path d="M372.50,137.50L376.50,141.50L372.50,145.50L368.50,141.50Z"/><path d="M373.50,135.50L377.50,139.50L373.50,143.50L369.50,139.50Z"/><path d="M375.50,131.50L379.50,135.50L375.50,139.50L371.50,135.50Z"/><path d="M376.50,126.50L380.50,130.50L376.50,134.50L372.50,130.50Z"/><path d="M377.50,122.50L381.50,126.50L377.50,130.50L373.50,126.50Z"/><path d="M379.50,119.50L383.50,123.50L379.50,127.50L375.50,123.50Z"/><path d="M380.50,113.50L384.50,117.50L380.50,121.50L376.50,117.50Z"/><path d="M382.50,110.50L386.50,114.50L382.50,118.50L378.50,114.50Z"/><path d="M383.50,106.50L387.50,110.50L383.50,114.50L379.50,110.50Z"/><path d="M384.50,103.50L388.50,107.50L384.50,111.50L380.50,107.50Z"/><path d="M386.50,105.50L390.50,109.50L386.50,113.50L382.50,109.50Z"/><path d="M387.50,110.50L391.50,114.50L387.50,118.50L383.50,114.50Z"/><path d="M389.50,115.50L393.50,119.50L389.50,123.50L385.50,119.50Z"/><path d="M390.50,120.50L394.50,124.50L390.50,128.50L386.50,124.50Z"/><path d="M392.50,123.50L396.50,127.50L392.50,131.50L388.50,127.50Z"/><path d="M393.50,126.50L397.50,130.50L393.50,134.50L389.50,130.50Z"/><path d="M394.50,129.50L398.50,133.50L394.50,137.50L390.50,133.50Z"/><path d="M396.50,130.50L400.50,134.50L396.50,138.50L392.50,134.50Z"/><path d="M397.50,131.50L401.50,135.50L397.50,139.50L393.50,135.50Z"/><path d="M399.50,132.50L403.50,136.50L399.50,140.50L395.50,136.50Z"/><path d="M400.50,132.50L404.50,136.50L400.50,140.50L396.50,136.50Z"/><path d="M401.50,132.50L405.50,136.50L401.50,140.50L397.50,136.50Z"/><path d="M403.50,132.50L407.50,136.50L403.50,140.50L399.50,136.50Z"/><path d="M404.50,133.50L408.50,137.50L404.50,141.50L400.50,137.50Z"/><path d="M406.50,133.50L410.50,137.50L406.50,141.50L402.50,137.50Z"/><path d="M407.50,134.50L411.50,138.50L407.50,142.50L403.50,138.50Z"/><path d="M408.50,134.50L412.50,138.50L408.50,142.50L404.50,138.50Z"/><path d="M410.50,134.50L414.50,138.50L410.50,142.50L406.50,138.50Z"/><path d="M411.50,133.50L415.50,137.50L411.50,141.50L407.50,137.50Z"/><path d="M413.50,132.50L417.50,136.50L413.50,140.50L409.50,136.50Z"/><path d="M414.50,131.50L418.50,135.50L414.50,139.50L410.50,135.50Z"/><path d="M416.50,130.50L420.50,134.50L416.50,138.50L412.50,134.50Z"/><path d="M417.50,131.50L421.50,135.50L417.50,139.50L413.50,135.50Z"/><path d="M418.50,132.50L422.50,136.50L418.50,140.50L414.50,136.50Z"/><path d="M420.50,134.50L424.50,138.50L420.50,142.50L416.50,138.50Z"/><path d="M421.50,136.50L425.50,140.50L421.50,144.50L417.50,140.50Z"/><path d="M423.50,137.50L427.50,141.50L423.50,145.50L419.50,141.50Z"/><path d="M424.50,139.50L428.50,143.50L424.50,147.50L420.50,143.50Z"/><path d="M425.50,141.50L429.50,145.50L425.50,149.50L421.50,145.50Z"/><path d="M427.50,142.50L431.50,146.50L427.50,150.50L423.50,146.50Z"/><path d="M428.50,143.50L432.50,147.50L428.50,151.50L424.50,147.50Z"/><path d="M430.50,144.50L434.50,148.50L430.50,152.50L426.50,148.50Z"/><path d="M431.50,144.50L435.50,148.50L431.50,152.50L427.50,148.50Z"/><path d="M432.50,143.50L436.50,147.50L432.50,151.50L428.50,147.50Z"/><path d="M434.50,143.50L438.50,147.50L434.50,151.50L430.50,147.50Z"/><path d="M435.50,142.50L439.50,146.50L435.50,150.50L431.50,146.50Z"/><path d="M437.50,143.50L441.50,147.50L437.50,151.50L433.50,147.50Z"/><path d="M438.50,143.50L442.50,147.50L438.50,151.50L434.50,147.50Z"/><path d="M440.50,144.50L444.50,148.50L440.50,152.50L436.50,148.50Z"/><path d="M441.50,143.50L445.50,147.50L441.50,151.50L437.50,147.50Z"/><path d="M442.50,142.50L446.50,146.50L442.50,150.50L438.50,146.50Z"/><path d="M444.50,140.50L448.50,144.50L444.50,148.50L440.50,144.50Z"/><path d="M445.50,140.50L449.50,144.50L445.50,148.50L441.50,144.50Z"/><path d="M447.50,139.50L451.50,143.50L447.50,147.50L443.50,143.50Z"/><path d="M448.50,139.50L452.50,143.50L448.50,147.50L444.50,143.50Z"/><path d="M449.50,140.50L453.50,144.50L449.50,148.50L445.50,144.50Z"/><path d="M451.50,141.50L455.50,145.50L451.50,149.50L447.50,145.50Z"/><path d="M452.50,142.50L456.50,146.50L452.50,150.50L448.50,146.50Z"/><path d="M454.50,144.50L458.50,148.50L454.50,152.50L450.50,148.50Z"/><path d="M455.50,146.50L459.50,150.50L455.50,154.50L451.50,150.50Z"/><path d="M456.50,148.50L460.50,152.50L456.50,156.50L452.50,152.50Z"/><path d="M458.50,150.50L462.50,154.50L458.50,158.50L454.50,154.50Z"/><path d="M459.50,151.50L463.50,155.50L459.50,159.50L455.50,155.50Z"/><path d="M461.50,151.50L465.50,155.50L461.50,159.50L457.50,155.50Z"/><path d="M462.50,151.50L466.50,155.50L462.50,159.50L458.50,155.50Z"/><path d="M464.50,150.50L468.50,154.50L464.50,158.50L460.50,154.50Z"/><path d="M465.50,149.50L469.50,153.50L465.50,157.50L461.50,153.50Z"/><path d="M466.50,148.50L470.50,152.50L466.50,156.50L462.50,152.50Z"/><path d="M468.50,146.50L472.50,150.50L468.50,154.50L464.50,150.50Z"/><path d="M469.50,144.50L473.50,148.50L469.50,152.50L465.50,148.50Z"/><path d="M471.50,142.50L475.50,146.50L471.50,150.50L467.50,146.50Z"/><path d="M472.50,141.50L476.50,145.50L472.50,149.50L468.50,145.50Z"/><path d="M473.50,139.50L477.50,143.50L473.50,147.50L469.50,143.50Z"/><path d="M475.50,137.50L479.50,141.50L475.50,145.50L471.50,141.50Z"/><path d="M476.50,135.50L480.50,139.50L476.50,143.50L472.50,139.50Z"/><path d="M478.50,129.50L482.50,133.50L478.50,137.50L474.50,133.50Z"/><path d="M479.50,123.50L483.50,127.50L479.50,131.50L475.50,127.50Z"/><path d="M480.50,117.50L484.50,121.50L480.50,125.50L476.50,121.50Z"/><path d="M482.50,110.50L486.50,114.50L482.50,118.50L478.50,114.50Z"/><path d="M483.50,104.50L487.50,108.50L483.50,112.50L479.50,108.50Z"/><path d="M485.50,103.50L489.50,107.50L485.50,111.50L481.50,107.50Z"/><path d="M486.50,107.50L490.50,111.50L486.50,115.50L482.50,111.50Z"/><path d="M488.50,112.50L492.50,116.50L488.50,120.50L484.50,116.50Z"/><path d="M489.50,118.50L493.50,122.50L489.50,126.50L485.50,122.50Z"/><path d="M490.50,123.50L494.50,127.50L490.50,131.50L486.50,127.50Z"/><path d="M492.50,128.50L496.50,132.50L492.50,136.50L488.50,132.50Z"/><path d="M493.50,130.50L497.50,134.50L493.50,138.50L489.50,134.50Z"/><path d="M495.50,131.50L499.50,135.50L495.50,139.50L491.50,135.50Z"/><path d="M496.50,132.50L500.50,136.50L496.50,140.50L492.50,136.50Z"/><path d="M497.50,133.50L501.50,137.50L497.50,141.50L493.50,137.50Z"/><path d="M499.50,133.50L503.50,137.50L499.50,141.50L495.50,137.50Z"/><path d="M500.50,133.50L504.50,137.50L500.50,141.50L496.50,137.50Z"/><path d="M502.50,133.50L506.50,137.50L502.50,141.50L498.50,137.50Z"/><path d="M503.50,132.50L507.50,136.50L503.50,140.50L499.50,136.50Z"/><path d="M504.50,131.50L508.50,135.50L504.50,139.50L500.50,135.50Z"/><path d="M506.50,130.50L510.50,134.50L506.50,138.50L502.50,134.50Z"/><path d="M507.50,129.50L511.50,133.50L507.50,137.50L503.50,133.50Z"/><path d="M509.50,128.50L513.50,132.50L509.50,136.50L505.50,132.50Z"/><path d="M510.50,133.50L514.50,137.50L510.50,141.50L506.50,137.50Z"/><path d="M512.50,135.50L516.50,139.50L512.50,143.50L508.50,139.50Z"/><path d="M513.50,133.50L517.50,137.50L513.50,141.50L509.50,137.50Z"/><path d="M514.50,132.50L518.50,136.50L514.50,140.50L510.50,136.50Z"/><path d="M516.50,129.50L520.50,133.50L516.50,137.50L512.50,133.50Z"/><path d="M517.50,121.50L521.50,125.50L517.50,129.50L513.50,125.50Z"/><path d="M519.50,118.50L523.50,122.50L519.50,126.50L515.50,122.50Z"/><path d="M520.50,117.50L524.50,121.50L520.50,125.50L516.50,121.50Z"/><path d="M521.50,119.50L525.50,123.50L521.50,127.50L517.50,123.50Z"/><path d="M523.50,122.50L527.50,126.50L523.50,130.50L519.50,126.50Z"/><path d="M524.50,124.50L528.50,128.50L524.50,132.50L520.50,128.50Z"/><path d="M526.50,127.50L530.50,131.50L526.50,135.50L522.50,131.50Z"/><path d="M527.50,129.50L531.50,133.50L527.50,137.50L523.50,133.50Z"/><path d="M528.50,130.50L532.50,134.50L528.50,138.50L524.50,134.50Z"/><path d="M530.50,132.50L534.50,136.50L530.50,140.50L526.50,136.50Z"/><path d="M531.50,133.50L535.50,137.50L531.50,141.50L527.50,137.50Z"/><path d="M533.50,134.50L537.50,138.50L533.50,142.50L529.50,138.50Z"/><path d="M534.50,136.50L538.50,140.50L534.50,144.50L530.50,140.50Z"/><path d="M536.50,137.50L540.50,141.50L536.50,145.50L532.50,141.50Z"/><path d="M537.50,138.50L541.50,142.50L537.50,146.50L533.50,142.50Z"/><path d="M538.50,139.50L542.50,143.50L538.50,147.50L534.50,143.50Z"/><path d="M540.50,141.50L544.50,145.50L540.50,149.50L536.50,145.50Z"/><path d="M541.50,143.50L545.50,147.50L541.50,151.50L537.50,147.50Z"/><path d="M543.50,144.50L547.50,148.50L543.50,152.50L539.50,148.50Z"/><path d="M544.50,144.50L548.50,148.50L544.50,152.50L540.50,148.50Z"/><path d="M545.50,126.50L549.50,130.50L545.50,134.50L541.50,130.50Z"/><path d="M547.50,114.50L551.50,118.50L547.50,122.50L543.50,118.50Z"/><path d="M548.50,106.50L552.50,110.50L548.50,114.50L544.50,110.50Z"/><path d="M550.50,100.50L554.50,104.50L550.50,108.50L546.50,104.50Z"/><path d="M551.50,97.50L555.50,101.50L551.50,105.50L547.50,101.50Z"/><path d="M552.50,96.50L556.50,100.50L552.50,104.50L548.50,100.50Z"/><path d="M554.50,95.50L558.50,99.50L554.50,103.50L550.50,99.50Z"/><path d="M555.50,96.50L559.50,100.50L555.50,104.50L551.50,100.50Z"/><path d="M557.50,99.50L561.50,103.50L557.50,107.50L553.50,103.50Z"/><path d="M558.50,111.50L562.50,115.50L558.50,119.50L554.50,115.50Z"/><path d="M560.50,117.50L564.50,121.50L560.50,125.50L556.50,121.50Z"/><path d="M561.50,120.50L565.50,124.50L561.50,128.50L557.50,124.50Z"/><path d="M562.50,122.50L566.50,126.50L562.50,130.50L558.50,126.50Z"/><path d="M564.50,124.50L568.50,128.50L564.50,132.50L560.50,128.50Z"/><path d="M565.50,126.50L569.50,130.50L565.50,134.50L561.50,130.50Z"/><path d="M567.50,128.50L571.50,132.50L567.50,136.50L563.50,132.50Z"/></g>
<g fill="#1b2f6e"><rect x="54.65" y="22.65" width="7.70" height="7.70"/><path d="M56.40,24.40L60.60,28.60M60.60,24.40L56.40,28.60" stroke="#f4f5fb" stroke-width="1"/><rect x="56.65" y="19.65" width="7.70" height="7.70"/><path d="M58.40,21.40L62.60,25.60M62.60,21.40L58.40,25.60" stroke="#f4f5fb" stroke-width="1"/><rect x="57.65" y="16.65" width="7.70" height="7.70"/><path d="M59.40,18.40L63.60,22.60M63.60,18.40L59.40,22.60" stroke="#f4f5fb" stroke-width="1"/><rect x="59.65" y="12.65" width="7.70" height="7.70"/><path d="M61.40,14.40L65.60,18.60M65.60,14.40L61.40,18.60" stroke="#f4f5fb" stroke-width="1"/><rect x="60.65" y="8.65" width="7.70" height="7.70"/><path d="M62.40,10.40L66.60,14.60M66.60,10.40L62.40,14.60" stroke="#f4f5fb" stroke-width="1"/><rect x="61.65" y="5.65" width="7.70" height="7.70"/><path d="M63.40,7.40L67.60,11.60M67.60,7.40L63.40,11.60" stroke="#f4f5fb" stroke-width="1"/><rect x="63.65" y="3.65" width="7.70" height="7.70"/><path d="M65.40,5.40L69.60,9.60M69.60,5.40L65.40,9.60" stroke="#f4f5fb" stroke-width="1"/><rect x="64.65" y="1.65" width="7.70" height="7.70"/><path d="M66.40,3.40L70.60,7.60M70.60,3.40L66.40,7.60" stroke="#f4f5fb" stroke-width="1"/><rect x="66.65" y="0.65" width="7.70" height="7.70"/><path d="M68.40,2.40L72.60,6.60M72.60,2.40L68.40,6.60" stroke="#f4f5fb" stroke-width="1"/><rect x="67.65" y="1.65" width="7.70" height="7.70"/><path d="M69.40,3.40L73.60,7.60M73.60,3.40L69.40,7.60" stroke="#f4f5fb" stroke-width="1"/><rect x="69.65" y="28.65" width="7.70" height="7.70"/><path d="M71.40,30.40L75.60,34.60M75.60,30.40L71.40,34.60" stroke="#f4f5fb" stroke-width="1"/><rect x="70.65" y="56.65" width="7.70" height="7.70"/><path d="M72.40,58.40L76.60,62.60M76.60,58.40L72.40,62.60" stroke="#f4f5fb" stroke-width="1"/><rect x="71.65" y="71.65" width="7.70" height="7.70"/><path d="M73.40,73.40L77.60,77.60M77.60,73.40L73.40,77.60" stroke="#f4f5fb" stroke-width="1"/><rect x="73.65" y="88.65" width="7.70" height="7.70"/><path d="M75.40,90.40L79.60,94.60M79.60,90.40L75.40,94.60" stroke="#f4f5fb" stroke-width="1"/><rect x="74.65" y="102.65" width="7.70" height="7.70"/><path d="M76.40,104.40L80.60,108.60M80.60,104.40L76.40,108.60" stroke="#f4f5fb" stroke-width="1"/><rect x="76.65" y="114.65" width="7.70" height="7.70"/><path d="M78.40,116.40L82.60,120.60M82.60,116.40L78.40,120.60" stroke="#f4f5fb" stroke-width="1"/><rect x="77.65" y="125.65" width="7.70" height="7.70"/><path d="M79.40,127.40L83.60,131.60M83.60,127.40L79.40,131.60" stroke="#f4f5fb" stroke-width="1"/><rect x="78.65" y="102.65" width="7.70" height="7.70"/><path d="M80.40,104.40L84.60,108.60M84.60,104.40L80.40,108.60" stroke="#f4f5fb" stroke-width="1"/><rect x="80.65" y="88.65" width="7.70" height="7.70"/><path d="M82.40,90.40L86.60,94.60M86.60,90.40L82.40,94.60" stroke="#f4f5fb" stroke-width="1"/><rect x="81.65" y="73.65" width="7.70" height="7.70"/><path d="M83.40,75.40L87.60,79.60M87.60,75.40L83.40,79.60" stroke="#f4f5fb" stroke-width="1"/><rect x="83.65" y="54.65" width="7.70" height="7.70"/><path d="M85.40,56.40L89.60,60.60M89.60,56.40L85.40,60.60" stroke="#f4f5fb" stroke-width="1"/><rect x="84.65" y="33.65" width="7.70" height="7.70"/><path d="M86.40,35.40L90.60,39.60M90.60,35.40L86.40,39.60" stroke="#f4f5fb" stroke-width="1"/><rect x="85.65" y="24.65" width="7.70" height="7.70"/><path d="M87.40,26.40L91.60,30.60M91.60,26.40L87.40,30.60" stroke="#f4f5fb" stroke-width="1"/><rect x="87.65" y="19.65" width="7.70" height="7.70"/><path d="M89.40,21.40L93.60,25.60M93.60,21.40L89.40,25.60" stroke="#f4f5fb" stroke-width="1"/><rect x="88.65" y="18.65" width="7.70" height="7.70"/><path d="M90.40,20.40L94.60,24.60M94.60,20.40L90.40,24.60" stroke="#f4f5fb" stroke-width="1"/><rect x="90.65" y="13.65" width="7.70" height="7.70"/><path d="M92.40,15.40L96.60,19.60M96.60,15.40L92.40,19.60" stroke="#f4f5fb" stroke-width="1"/><rect x="91.65" y="9.65" width="7.70" height="7.70"/><path d="M93.40,11.40L97.60,15.60M97.60,11.40L93.40,15.60" stroke="#f4f5fb" stroke-width="1"/><rect x="93.65" y="6.65" width="7.70" height="7.70"/><path d="M95.40,8.40L99.60,12.60M99.60,8.40L95.40,12.60" stroke="#f4f5fb" stroke-width="1"/><rect x="94.65" y="2.65" width="7.70" height="7.70"/><path d="M96.40,4.40L100.60,8.60M100.60,4.40L96.40,8.60" stroke="#f4f5fb" stroke-width="1"/><rect x="95.65" y="1.65" width="7.70" height="7.70"/><path d="M97.40,3.40L101.60,7.60M101.60,3.40L97.40,7.60" stroke="#f4f5fb" stroke-width="1"/><rect x="97.65" y="1.65" width="7.70" height="7.70"/><path d="M99.40,3.40L103.60,7.60M103.60,3.40L99.40,7.60" stroke="#f4f5fb" stroke-width="1"/><rect x="98.65" y="1.65" width="7.70" height="7.70"/><path d="M100.40,3.40L104.60,7.60M104.60,3.40L100.40,7.60" stroke="#f4f5fb" stroke-width="1"/><rect x="100.65" y="1.65" width="7.70" height="7.70"/><path d="M102.40,3.40L106.60,7.60M106.60,3.40L102.40,7.60" stroke="#f4f5fb" stroke-width="1"/><rect x="101.65" y="1.65" width="7.70" height="7.70"/><path d="M103.40,3.40L107.60,7.60M107.60,3.40L103.40,7.60" stroke="#f4f5fb" stroke-width="1"/><rect x="102.65" y="21.65" width="7.70" height="7.70"/><path d="M104.40,23.40L108.60,27.60M108.60,23.40L104.40,27.60" stroke="#f4f5fb" stroke-width="1"/><rect x="104.65" y="40.65" width="7.70" height="7.70"/><path d="M106.40,42.40L110.60,46.60M110.60,42.40L106.40,46.60" stroke="#f4f5fb" stroke-width="1"/><rect x="105.65" y="62.65" width="7.70" height="7.70"/><path d="M107.40,64.40L111.60,68.60M111.60,64.40L107.40,68.60" stroke="#f4f5fb" stroke-width="1"/><rect x="107.65" y="85.65" width="7.70" height="7.70"/><path d="M109.40,87.40L113.60,91.60M113.60,87.40L109.40,91.60" stroke="#f4f5fb" stroke-width="1"/><rect x="108.65" y="106.65" width="7.70" height="7.70"/><path d="M110.40,108.40L114.60,112.60M114.60,108.40L110.40,112.60" stroke="#f4f5fb" stroke-width="1"/><rect x="109.65" y="133.65" width="7.70" height="7.70"/><path d="M111.40,135.40L115.60,139.60M115.60,135.40L111.40,139.60" stroke="#f4f5fb" stroke-width="1"/><rect x="111.65" y="152.65" width="7.70" height="7.70"/><path d="M113.40,154.40L117.60,158.60M117.60,154.40L113.40,158.60" stroke="#f4f5fb" stroke-width="1"/><rect x="112.65" y="161.65" width="7.70" height="7.70"/><path d="M114.40,163.40L118.60,167.60M118.60,163.40L114.40,167.60" stroke="#f4f5fb" stroke-width="1"/><rect x="114.65" y="167.65" width="7.70" height="7.70"/><path d="M116.40,169.40L120.60,173.60M120.60,169.40L116.40,173.60" stroke="#f4f5fb" stroke-width="1"/><rect x="115.65" y="133.65" width="7.70" height="7.70"/><path d="M117.40,135.40L121.60,139.60M121.60,135.40L117.40,139.60" stroke="#f4f5fb" stroke-width="1"/><rect x="117.65" y="90.65" width="7.70" height="7.70"/><path d="M119.40,92.40L123.60,96.60M123.60,92.40L119.40,96.60" stroke="#f4f5fb" stroke-width="1"/><rect x="118.65" y="65.65" width="7.70" height="7.70"/><path d="M120.40,67.40L124.60,71.60M124.60,67.40L120.40,71.60" stroke="#f4f5fb" stroke-width="1"/><rect x="119.65" y="51.65" width="7.70" height="7.70"/><path d="M121.40,53.40L125.60,57.60M125.60,53.40L121.40,57.60" stroke="#f4f5fb" stroke-width="1"/><rect x="121.65" y="44.65" width="7.70" height="7.70"/><path d="M123.40,46.40L127.60,50.60M127.60,46.40L123.40,50.60" stroke="#f4f5fb" stroke-width="1"/><rect x="122.65" y="38.65" width="7.70" height="7.70"/><path d="M124.40,40.40L128.60,44.60M128.60,40.40L124.40,44.60" stroke="#f4f5fb" stroke-width="1"/><rect x="124.65" y="32.65" width="7.70" height="7.70"/><path d="M126.40,34.40L130.60,38.60M130.60,34.40L126.40,38.60" stroke="#f4f5fb" stroke-width="1"/><rect x="125.65" y="23.65" width="7.70" height="7.70"/><path d="M127.40,25.40L131.60,29.60M131.60,25.40L127.40,29.60" stroke="#f4f5fb" stroke-width="1"/><rect x="126.65" y="16.65" width="7.70" height="7.70"/><path d="M128.40,18.40L132.60,22.60M132.60,18.40L128.40,22.60" stroke="#f4f5fb" stroke-width="1"/><rect x="128.65" y="13.65" width="7.70" height="7.70"/><path d="M130.40,15.40L134.60,19.60M134.60,15.40L130.40,19.60" stroke="#f4f5fb" stroke-width="1"/><rect x="129.65" y="8.65" width="7.70" height="7.70"/><path d="M131.40,10.40L135.60,14.60M135.60,10.40L131.40,14.60" stroke="#f4f5fb" stroke-width="1"/><rect x="131.65" y="6.65" width="7.70" height="7.70"/><path d="M133.40,8.40L137.60,12.60M137.60,8.40L133.40,12.60" stroke="#f4f5fb" stroke-width="1"/><rect x="132.65" y="3.65" width="7.70" height="7.70"/><path d="M134.40,5.40L138.60,9.60M138.60,5.40L134.40,9.60" stroke="#f4f5fb" stroke-width="1"/><rect x="133.65" y="1.65" width="7.70" height="7.70"/><path d="M135.40,3.40L139.60,7.60M139.60,3.40L135.40,7.60" stroke="#f4f5fb" stroke-width="1"/><rect x="135.65" y="29.65" width="7.70" height="7.70"/><path d="M137.40,31.40L141.60,35.60M141.60,31.40L137.40,35.60" stroke="#f4f5fb" stroke-width="1"/><rect x="136.65" y="46.65" width="7.70" height="7.70"/><path d="M138.40,48.40L142.60,52.60M142.60,48.40L138.40,52.60" stroke="#f4f5fb" stroke-width="1"/><rect x="138.65" y="58.65" width="7.70" height="7.70"/><path d="M140.40,60.40L144.60,64.60M144.60,60.40L140.40,64.60" stroke="#f4f5fb" stroke-width="1"/><rect x="139.65" y="71.65" width="7.70" height="7.70"/><path d="M141.40,73.40L145.60,77.60M145.60,73.40L141.40,77.60" stroke="#f4f5fb" stroke-width="1"/><rect x="141.65" y="116.65" width="7.70" height="7.70"/><path d="M143.40,118.40L147.60,122.60M147.60,118.40L143.40,122.60" stroke="#f4f5fb" stroke-width="1"/><rect x="142.65" y="161.65" width="7.70" height="7.70"/><path d="M144.40,163.40L148.60,167.60M148.60,163.40L144.40,167.60" stroke="#f4f5fb" stroke-width="1"/><rect x="143.65" y="168.65" width="7.70" height="7.70"/><path d="M145.40,170.40L149.60,174.60M149.60,170.40L145.40,174.60" stroke="#f4f5fb" stroke-width="1"/><rect x="145.65" y="174.65" width="7.70" height="7.70"/><path d="M147.40,176.40L151.60,180.60M151.60,176.40L147.40,180.60" stroke="#f4f5fb" stroke-width="1"/><rect x="146.65" y="183.65" width="7.70" height="7.70"/><path d="M148.40,185.40L152.60,189.60M152.60,185.40L148.40,189.60" stroke="#f4f5fb" stroke-width="1"/><rect x="148.65" y="187.65" width="7.70" height="7.70"/><path d="M150.40,189.40L154.60,193.60M154.60,189.40L150.40,193.60" stroke="#f4f5fb" stroke-width="1"/><rect x="149.65" y="178.65" width="7.70" height="7.70"/><path d="M151.40,180.40L155.60,184.60M155.60,180.40L151.40,184.60" stroke="#f4f5fb" stroke-width="1"/><rect x="150.65" y="137.65" width="7.70" height="7.70"/><path d="M152.40,139.40L156.60,143.60M156.60,139.40L152.40,143.60" stroke="#f4f5fb" stroke-width="1"/><rect x="152.65" y="130.65" width="7.70" height="7.70"/><path d="M154.40,132.40L158.60,136.60M158.60,132.40L154.40,136.60" stroke="#f4f5fb" stroke-width="1"/><rect x="153.65" y="123.65" width="7.70" height="7.70"/><path d="M155.40,125.40L159.60,129.60M159.60,125.40L155.40,129.60" stroke="#f4f5fb" stroke-width="1"/><rect x="155.65" y="115.65" width="7.70" height="7.70"/><path d="M157.40,117.40L161.60,121.60M161.60,117.40L157.40,121.60" stroke="#f4f5fb" stroke-width="1"/><rect x="156.65" y="105.65" width="7.70" height="7.70"/><path d="M158.40,107.40L162.60,111.60M162.60,107.40L158.40,111.60" stroke="#f4f5fb" stroke-width="1"/><rect x="157.65" y="97.65" width="7.70" height="7.70"/><path d="M159.40,99.40L163.60,103.60M163.60,99.40L159.40,103.60" stroke="#f4f5fb" stroke-width="1"/><rect x="159.65" y="88.65" width="7.70" height="7.70"/><path d="M161.40,90.40L165.60,94.60M165.60,90.40L161.40,94.60" stroke="#f4f5fb" stroke-width="1"/><rect x="160.65" y="81.65" width="7.70" height="7.70"/><path d="M162.40,83.40L166.60,87.60M166.60,83.40L162.40,87.60" stroke="#f4f5fb" stroke-width="1"/><rect x="162.65" y="74.65" width="7.70" height="7.70"/><path d="M164.40,76.40L168.60,80.60M168.60,76.40L164.40,80.60" stroke="#f4f5fb" stroke-width="1"/><rect x="163.65" y="68.65" width="7.70" height="7.70"/><path d="M165.40,70.40L169.60,74.60M169.60,70.40L165.40,74.60" stroke="#f4f5fb" stroke-width="1"/><rect x="165.65" y="63.65" width="7.70" height="7.70"/><path d="M167.40,65.40L171.60,69.60M171.60,65.40L167.40,69.60" stroke="#f4f5fb" stroke-width="1"/><rect x="166.65" y="57.65" width="7.70" height="7.70"/><path d="M168.40,59.40L172.60,63.60M172.60,59.40L168.40,63.60" stroke="#f4f5fb" stroke-width="1"/><rect x="167.65" y="58.65" width="7.70" height="7.70"/><path d="M169.40,60.40L173.60,64.60M173.60,60.40L169.40,64.60" stroke="#f4f5fb" stroke-width="1"/><rect x="169.65" y="68.65" width="7.70" height="7.70"/><path d="M171.40,70.40L175.60,74.60M175.60,70.40L171.40,74.60" stroke="#f4f5fb" stroke-width="1"/><rect x="170.65" y="82.65" width="7.70" height="7.70"/><path d="M172.40,84.40L176.60,88.60M176.60,84.40L172.40,88.60" stroke="#f4f5fb" stroke-width="1"/><rect x="172.65" y="102.65" width="7.70" height="7.70"/><path d="M174.40,104.40L178.60,108.60M178.60,104.40L174.40,108.60" stroke="#f4f5fb" stroke-width="1"/><rect x="173.65" y="124.65" width="7.70" height="7.70"/><path d="M175.40,126.40L179.60,130.60M179.60,126.40L175.40,130.60" stroke="#f4f5fb" stroke-width="1"/><rect x="174.65" y="144.65" width="7.70" height="7.70"/><path d="M176.40,146.40L180.60,150.60M180.60,146.40L176.40,150.60" stroke="#f4f5fb" stroke-width="1"/><rect x="176.65" y="163.65" width="7.70" height="7.70"/><path d="M178.40,165.40L182.60,169.60M182.60,165.40L178.40,169.60" stroke="#f4f5fb" stroke-width="1"/><rect x="177.65" y="170.65" width="7.70" height="7.70"/><path d="M179.40,172.40L183.60,176.60M183.60,172.40L179.40,176.60" stroke="#f4f5fb" stroke-width="1"/><rect x="179.65" y="178.65" width="7.70" height="7.70"/><path d="M181.40,180.40L185.60,184.60M185.60,180.40L181.40,184.60" stroke="#f4f5fb" stroke-width="1"/><rect x="180.65" y="180.65" width="7.70" height="7.70"/><path d="M182.40,182.40L186.60,186.60M186.60,182.40L182.40,186.60" stroke="#f4f5fb" stroke-width="1"/><rect x="181.65" y="170.65" width="7.70" height="7.70"/><path d="M183.40,172.40L187.60,176.60M187.60,172.40L183.40,176.60" stroke="#f4f5fb" stroke-width="1"/><rect x="183.65" y="156.65" width="7.70" height="7.70"/><path d="M185.40,158.40L189.60,162.60M189.60,158.40L185.40,162.60" stroke="#f4f5fb" stroke-width="1"/><rect x="184.65" y="142.65" width="7.70" height="7.70"/><path d="M186.40,144.40L190.60,148.60M190.60,144.40L186.40,148.60" stroke="#f4f5fb" stroke-width="1"/><rect x="186.65" y="126.65" width="7.70" height="7.70"/><path d="M188.40,128.40L192.60,132.60M192.60,128.40L188.40,132.60" stroke="#f4f5fb" stroke-width="1"/><rect x="187.65" y="112.65" width="7.70" height="7.70"/><path d="M189.40,114.40L193.60,118.60M193.60,114.40L189.40,118.60" stroke="#f4f5fb" stroke-width="1"/><rect x="189.65" y="108.65" width="7.70" height="7.70"/><path d="M191.40,110.40L195.60,114.60M195.60,110.40L191.40,114.60" stroke="#f4f5fb" stroke-width="1"/><rect x="190.65" y="101.65" width="7.70" height="7.70"/><path d="M192.40,103.40L196.60,107.60M196.60,103.40L192.40,107.60" stroke="#f4f5fb" stroke-width="1"/><rect x="191.65" y="96.65" width="7.70" height="7.70"/><path d="M193.40,98.40L197.60,102.60M197.60,98.40L193.40,102.60" stroke="#f4f5fb" stroke-width="1"/><rect x="193.65" y="83.65" width="7.70" height="7.70"/><path d="M195.40,85.40L199.60,89.60M199.60,85.40L195.40,89.60" stroke="#f4f5fb" stroke-width="1"/><rect x="194.65" y="76.65" width="7.70" height="7.70"/><path d="M196.40,78.40L200.60,82.60M200.60,78.40L196.40,82.60" stroke="#f4f5fb" stroke-width="1"/><rect x="196.65" y="71.65" width="7.70" height="7.70"/><path d="M198.40,73.40L202.60,77.60M202.60,73.40L198.40,77.60" stroke="#f4f5fb" stroke-width="1"/><rect x="197.65" y="65.65" width="7.70" height="7.70"/><path d="M199.40,67.40L203.60,71.60M203.60,67.40L199.40,71.60" stroke="#f4f5fb" stroke-width="1"/><rect x="198.65" y="60.65" width="7.70" height="7.70"/><path d="M200.40,62.40L204.60,66.60M204.60,62.40L200.40,66.60" stroke="#f4f5fb" stroke-width="1"/><rect x="200.65" y="56.65" width="7.70" height="7.70"/><path d="M202.40,58.40L206.60,62.60M206.60,58.40L202.40,62.60" stroke="#f4f5fb" stroke-width="1"/><rect x="201.65" y="64.65" width="7.70" height="7.70"/><path d="M203.40,66.40L207.60,70.60M207.60,66.40L203.40,70.60" stroke="#f4f5fb" stroke-width="1"/><rect x="203.65" y="74.65" width="7.70" height="7.70"/><path d="M205.40,76.40L209.60,80.60M209.60,76.40L205.40,80.60" stroke="#f4f5fb" stroke-width="1"/><rect x="204.65" y="99.65" width="7.70" height="7.70"/><path d="M206.40,101.40L210.60,105.60M210.60,101.40L206.40,105.60" stroke="#f4f5fb" stroke-width="1"/><rect x="205.65" y="122.65" width="7.70" height="7.70"/><path d="M207.40,124.40L211.60,128.60M211.60,124.40L207.40,128.60" stroke="#f4f5fb" stroke-width="1"/><rect x="207.65" y="137.65" width="7.70" height="7.70"/><path d="M209.40,139.40L213.60,143.60M213.60,139.40L209.40,143.60" stroke="#f4f5fb" stroke-width="1"/><rect x="208.65" y="151.65" width="7.70" height="7.70"/><path d="M210.40,153.40L214.60,157.60M214.60,153.40L210.40,157.60" stroke="#f4f5fb" stroke-width="1"/><rect x="210.65" y="167.65" width="7.70" height="7.70"/><path d="M212.40,169.40L216.60,173.60M216.60,169.40L212.40,173.60" stroke="#f4f5fb" stroke-width="1"/><rect x="211.65" y="177.65" width="7.70" height="7.70"/><path d="M213.40,179.40L217.60,183.60M217.60,179.40L213.40,183.60" stroke="#f4f5fb" stroke-width="1"/><rect x="213.65" y="181.65" width="7.70" height="7.70"/><path d="M215.40,183.40L219.60,187.60M219.60,183.40L215.40,187.60" stroke="#f4f5fb" stroke-width="1"/><rect x="214.65" y="182.65" width="7.70" height="7.70"/><path d="M216.40,184.40L220.60,188.60M220.60,184.40L216.40,188.60" stroke="#f4f5fb" stroke-width="1"/><rect x="215.65" y="171.65" width="7.70" height="7.70"/><path d="M217.40,173.40L221.60,177.60M221.60,173.40L217.40,177.60" stroke="#f4f5fb" stroke-width="1"/><rect x="217.65" y="160.65" width="7.70" height="7.70"/><path d="M219.40,162.40L223.60,166.60M223.60,162.40L219.40,166.60" stroke="#f4f5fb" stroke-width="1"/><rect x="218.65" y="151.65" width="7.70" height="7.70"/><path d="M220.40,153.40L224.60,157.60M224.60,153.40L220.40,157.60" stroke="#f4f5fb" stroke-width="1"/><rect x="220.65" y="146.65" width="7.70" height="7.70"/><path d="M222.40,148.40L226.60,152.60M226.60,148.40L222.40,152.60" stroke="#f4f5fb" stroke-width="1"/><rect x="221.65" y="142.65" width="7.70" height="7.70"/><path d="M223.40,144.40L227.60,148.60M227.60,144.40L223.40,148.60" stroke="#f4f5fb" stroke-width="1"/><rect x="222.65" y="138.65" width="7.70" height="7.70"/><path d="M224.40,140.40L228.60,144.60M228.60,140.40L224.40,144.60" stroke="#f4f5fb" stroke-width="1"/><rect x="224.65" y="135.65" width="7.70" height="7.70"/><path d="M226.40,137.40L230.60,141.60M230.60,137.40L226.40,141.60" stroke="#f4f5fb" stroke-width="1"/><rect x="225.65" y="113.65" width="7.70" height="7.70"/><path d="M227.40,115.40L231.60,119.60M231.60,115.40L227.40,119.60" stroke="#f4f5fb" stroke-width="1"/><rect x="227.65" y="109.65" width="7.70" height="7.70"/><path d="M229.40,111.40L233.60,115.60M233.60,111.40L229.40,115.60" stroke="#f4f5fb" stroke-width="1"/><rect x="228.65" y="103.65" width="7.70" height="7.70"/><path d="M230.40,105.40L234.60,109.60M234.60,105.40L230.40,109.60" stroke="#f4f5fb" stroke-width="1"/><rect x="229.65" y="99.65" width="7.70" height="7.70"/><path d="M231.40,101.40L235.60,105.60M235.60,101.40L231.40,105.60" stroke="#f4f5fb" stroke-width="1"/><rect x="231.65" y="93.65" width="7.70" height="7.70"/><path d="M233.40,95.40L237.60,99.60M237.60,95.40L233.40,99.60" stroke="#f4f5fb" stroke-width="1"/><rect x="232.65" y="90.65" width="7.70" height="7.70"/><path d="M234.40,92.40L238.60,96.60M238.60,92.40L234.40,96.60" stroke="#f4f5fb" stroke-width="1"/><rect x="234.65" y="81.65" width="7.70" height="7.70"/><path d="M236.40,83.40L240.60,87.60M240.60,83.40L236.40,87.60" stroke="#f4f5fb" stroke-width="1"/><rect x="235.65" y="84.65" width="7.70" height="7.70"/><path d="M237.40,86.40L241.60,90.60M241.60,86.40L237.40,90.60" stroke="#f4f5fb" stroke-width="1"/><rect x="237.65" y="88.65" width="7.70" height="7.70"/><path d="M239.40,90.40L243.60,94.60M243.60,90.40L239.40,94.60" stroke="#f4f5fb" stroke-width="1"/><rect x="238.65" y="117.65" width="7.70" height="7.70"/><path d="M240.40,119.40L244.60,123.60M244.60,119.40L240.40,123.60" stroke="#f4f5fb" stroke-width="1"/><rect x="239.65" y="138.65" width="7.70" height="7.70"/><path d="M241.40,140.40L245.60,144.60M245.60,140.40L241.40,144.60" stroke="#f4f5fb" stroke-width="1"/><rect x="241.65" y="151.65" width="7.70" height="7.70"/><path d="M243.40,153.40L247.60,157.60M247.60,153.40L243.40,157.60" stroke="#f4f5fb" stroke-width="1"/><rect x="242.65" y="163.65" width="7.70" height="7.70"/><path d="M244.40,165.40L248.60,169.60M248.60,165.40L244.40,169.60" stroke="#f4f5fb" stroke-width="1"/><rect x="244.65" y="173.65" width="7.70" height="7.70"/><path d="M246.40,175.40L250.60,179.60M250.60,175.40L246.40,179.60" stroke="#f4f5fb" stroke-width="1"/><rect x="245.65" y="178.65" width="7.70" height="7.70"/><path d="M247.40,180.40L251.60,184.60M251.60,180.40L247.40,184.60" stroke="#f4f5fb" stroke-width="1"/><rect x="246.65" y="180.65" width="7.70" height="7.70"/><path d="M248.40,182.40L252.60,186.60M252.60,182.40L248.40,186.60" stroke="#f4f5fb" stroke-width="1"/><rect x="248.65" y="185.65" width="7.70" height="7.70"/><path d="M250.40,187.40L254.60,191.60M254.60,187.40L250.40,191.60" stroke="#f4f5fb" stroke-width="1"/><rect x="249.65" y="159.65" width="7.70" height="7.70"/><path d="M251.40,161.40L255.60,165.60M255.60,161.40L251.40,165.60" stroke="#f4f5fb" stroke-width="1"/><rect x="251.65" y="129.65" width="7.70" height="7.70"/><path d="M253.40,131.40L257.60,135.60M257.60,131.40L253.40,135.60" stroke="#f4f5fb" stroke-width="1"/><rect x="252.65" y="126.65" width="7.70" height="7.70"/><path d="M254.40,128.40L258.60,132.60M258.60,128.40L254.40,132.60" stroke="#f4f5fb" stroke-width="1"/><rect x="253.65" y="146.65" width="7.70" height="7.70"/><path d="M255.40,148.40L259.60,152.60M259.60,148.40L255.40,152.60" stroke="#f4f5fb" stroke-width="1"/><rect x="255.65" y="153.65" width="7.70" height="7.70"/><path d="M257.40,155.40L261.60,159.60M261.60,155.40L257.40,159.60" stroke="#f4f5fb" stroke-width="1"/><rect x="256.65" y="148.65" width="7.70" height="7.70"/><path d="M258.40,150.40L262.60,154.60M262.60,150.40L258.40,154.60" stroke="#f4f5fb" stroke-width="1"/><rect x="258.65" y="144.65" width="7.70" height="7.70"/><path d="M260.40,146.40L264.60,150.60M264.60,146.40L260.40,150.60" stroke="#f4f5fb" stroke-width="1"/><rect x="259.65" y="141.65" width="7.70" height="7.70"/><path d="M261.40,143.40L265.60,147.60M265.60,143.40L261.40,147.60" stroke="#f4f5fb" stroke-width="1"/><rect x="261.65" y="136.65" width="7.70" height="7.70"/><path d="M263.40,138.40L267.60,142.60M267.60,138.40L263.40,142.60" stroke="#f4f5fb" stroke-width="1"/><rect x="262.65" y="122.65" width="7.70" height="7.70"/><path d="M264.40,124.40L268.60,128.60M268.60,124.40L264.40,128.60" stroke="#f4f5fb" stroke-width="1"/><rect x="263.65" y="115.65" width="7.70" height="7.70"/><path d="M265.40,117.40L269.60,121.60M269.60,117.40L265.40,121.60" stroke="#f4f5fb" stroke-width="1"/><rect x="265.65" y="111.65" width="7.70" height="7.70"/><path d="M267.40,113.40L271.60,117.60M271.60,113.40L267.40,117.60" stroke="#f4f5fb" stroke-width="1"/><rect x="266.65" y="100.65" width="7.70" height="7.70"/><path d="M268.40,102.40L272.60,106.60M272.60,102.40L268.40,106.60" stroke="#f4f5fb" stroke-width="1"/><rect x="268.65" y="91.65" width="7.70" height="7.70"/><path d="M270.40,93.40L274.60,97.60M274.60,93.40L270.40,97.60" stroke="#f4f5fb" stroke-width="1"/><rect x="269.65" y="85.65" width="7.70" height="7.70"/><path d="M271.40,87.40L275.60,91.60M275.60,87.40L271.40,91.60" stroke="#f4f5fb" stroke-width="1"/><rect x="270.65" y="86.65" width="7.70" height="7.70"/><path d="M272.40,88.40L276.60,92.60M276.60,88.40L272.40,92.60" stroke="#f4f5fb" stroke-width="1"/><rect x="272.65" y="90.65" width="7.70" height="7.70"/><path d="M274.40,92.40L278.60,96.60M278.60,92.40L274.40,96.60" stroke="#f4f5fb" stroke-width="1"/><rect x="273.65" y="106.65" width="7.70" height="7.70"/><path d="M275.40,108.40L279.60,112.60M279.60,108.40L275.40,112.60" stroke="#f4f5fb" stroke-width="1"/><rect x="275.65" y="117.65" width="7.70" height="7.70"/><path d="M277.40,119.40L281.60,123.60M281.60,119.40L277.40,123.60" stroke="#f4f5fb" stroke-width="1"/><rect x="276.65" y="137.65" width="7.70" height="7.70"/><path d="M278.40,139.40L282.60,143.60M282.60,139.40L278.40,143.60" stroke="#f4f5fb" stroke-width="1"/><rect x="277.65" y="152.65" width="7.70" height="7.70"/><path d="M279.40,154.40L283.60,158.60M283.60,154.40L279.40,158.60" stroke="#f4f5fb" stroke-width="1"/><rect x="279.65" y="165.65" width="7.70" height="7.70"/><path d="M281.40,167.40L285.60,171.60M285.60,167.40L281.40,171.60" stroke="#f4f5fb" stroke-width="1"/><rect x="280.65" y="173.65" width="7.70" height="7.70"/><path d="M282.40,175.40L286.60,179.60M286.60,175.40L282.40,179.60" stroke="#f4f5fb" stroke-width="1"/><rect x="282.65" y="182.65" width="7.70" height="7.70"/><path d="M284.40,184.40L288.60,188.60M288.60,184.40L284.40,188.60" stroke="#f4f5fb" stroke-width="1"/><rect x="283.65" y="186.65" width="7.70" height="7.70"/><path d="M285.40,188.40L289.60,192.60M289.60,188.40L285.40,192.60" stroke="#f4f5fb" stroke-width="1"/><rect x="285.65" y="180.65" width="7.70" height="7.70"/><path d="M287.40,182.40L291.60,186.60M291.60,182.40L287.40,186.60" stroke="#f4f5fb" stroke-width="1"/><rect x="286.65" y="173.65" width="7.70" height="7.70"/><path d="M288.40,175.40L292.60,179.60M292.60,175.40L288.40,179.60" stroke="#f4f5fb" stroke-width="1"/><rect x="287.65" y="166.65" width="7.70" height="7.70"/><path d="M289.40,168.40L293.60,172.60M293.60,168.40L289.40,172.60" stroke="#f4f5fb" stroke-width="1"/><rect x="289.65" y="156.65" width="7.70" height="7.70"/><path d="M291.40,158.40L295.60,162.60M295.60,158.40L291.40,162.60" stroke="#f4f5fb" stroke-width="1"/><rect x="290.65" y="144.65" width="7.70" height="7.70"/><path d="M292.40,146.40L296.60,150.60M296.60,146.40L292.40,150.60" stroke="#f4f5fb" stroke-width="1"/><rect x="292.65" y="137.65" width="7.70" height="7.70"/><path d="M294.40,139.40L298.60,143.60M298.60,139.40L294.40,143.60" stroke="#f4f5fb" stroke-width="1"/><rect x="293.65" y="131.65" width="7.70" height="7.70"/><path d="M295.40,133.40L299.60,137.60M299.60,133.40L295.40,137.60" stroke="#f4f5fb" stroke-width="1"/><rect x="294.65" y="128.65" width="7.70" height="7.70"/><path d="M296.40,130.40L300.60,134.60M300.60,130.40L296.40,134.60" stroke="#f4f5fb" stroke-width="1"/><rect x="296.65" y="126.65" width="7.70" height="7.70"/><path d="M298.40,128.40L302.60,132.60M302.60,128.40L298.40,132.60" stroke="#f4f5fb" stroke-width="1"/><rect x="297.65" y="119.65" width="7.70" height="7.70"/><path d="M299.40,121.40L303.60,125.60M303.60,121.40L299.40,125.60" stroke="#f4f5fb" stroke-width="1"/><rect x="299.65" y="93.65" width="7.70" height="7.70"/><path d="M301.40,95.40L305.60,99.60M305.60,95.40L301.40,99.60" stroke="#f4f5fb" stroke-width="1"/><rect x="300.65" y="81.65" width="7.70" height="7.70"/><path d="M302.40,83.40L306.60,87.60M306.60,83.40L302.40,87.60" stroke="#f4f5fb" stroke-width="1"/><rect x="301.65" y="73.65" width="7.70" height="7.70"/><path d="M303.40,75.40L307.60,79.60M307.60,75.40L303.40,79.60" stroke="#f4f5fb" stroke-width="1"/><rect x="303.65" y="55.65" width="7.70" height="7.70"/><path d="M305.40,57.40L309.60,61.60M309.60,57.40L305.40,61.60" stroke="#f4f5fb" stroke-width="1"/><rect x="304.65" y="39.65" width="7.70" height="7.70"/><path d="M306.40,41.40L310.60,45.60M310.60,41.40L306.40,45.60" stroke="#f4f5fb" stroke-width="1"/><rect x="306.65" y="6.65" width="7.70" height="7.70"/><path d="M308.40,8.40L312.60,12.60M312.60,8.40L308.40,12.60" stroke="#f4f5fb" stroke-width="1"/><rect x="307.65" y="4.65" width="7.70" height="7.70"/><path d="M309.40,6.40L313.60,10.60M313.60,6.40L309.40,10.60" stroke="#f4f5fb" stroke-width="1"/><rect x="309.65" y="1.65" width="7.70" height="7.70"/><path d="M311.40,3.40L315.60,7.60M315.60,3.40L311.40,7.60" stroke="#f4f5fb" stroke-width="1"/><rect x="310.65" y="0.65" width="7.70" height="7.70"/><path d="M312.40,2.40L316.60,6.60M316.60,2.40L312.40,6.60" stroke="#f4f5fb" stroke-width="1"/><rect x="311.65" y="0.65" width="7.70" height="7.70"/><path d="M313.40,2.40L317.60,6.60M317.60,2.40L313.40,6.60" stroke="#f4f5fb" stroke-width="1"/><rect x="313.65" y="0.65" width="7.70" height="7.70"/><path d="M315.40,2.40L319.60,6.60M319.60,2.40L315.40,6.60" stroke="#f4f5fb" stroke-width="1"/><rect x="314.65" y="0.65" width="7.70" height="7.70"/><path d="M316.40,2.40L320.60,6.60M320.60,2.40L316.40,6.60" stroke="#f4f5fb" stroke-width="1"/><rect x="316.65" y="0.65" width="7.70" height="7.70"/><path d="M318.40,2.40L322.60,6.60M322.60,2.40L318.40,6.60" stroke="#f4f5fb" stroke-width="1"/><rect x="317.65" y="0.65" width="7.70" height="7.70"/><path d="M319.40,2.40L323.60,6.60M323.60,2.40L319.40,6.60" stroke="#f4f5fb" stroke-width="1"/><rect x="318.65" y="0.65" width="7.70" height="7.70"/><path d="M320.40,2.40L324.60,6.60M324.60,2.40L320.40,6.60" stroke="#f4f5fb" stroke-width="1"/><rect x="320.65" y="0.65" width="7.70" height="7.70"/><path d="M322.40,2.40L326.60,6.60M326.60,2.40L322.40,6.60" stroke="#f4f5fb" stroke-width="1"/><rect x="321.65" y="0.65" width="7.70" height="7.70"/><path d="M323.40,2.40L327.60,6.60M327.60,2.40L323.40,6.60" stroke="#f4f5fb" stroke-width="1"/><rect x="323.65" y="0.65" width="7.70" height="7.70"/><path d="M325.40,2.40L329.60,6.60M329.60,2.40L325.40,6.60" stroke="#f4f5fb" stroke-width="1"/><rect x="324.65" y="0.65" width="7.70" height="7.70"/><path d="M326.40,2.40L330.60,6.60M330.60,2.40L326.40,6.60" stroke="#f4f5fb" stroke-width="1"/><rect x="325.65" y="0.65" width="7.70" height="7.70"/><path d="M327.40,2.40L331.60,6.60M331.60,2.40L327.40,6.60" stroke="#f4f5fb" stroke-width="1"/><rect x="327.65" y="0.65" width="7.70" height="7.70"/><path d="M329.40,2.40L333.60,6.60M333.60,2.40L329.40,6.60" stroke="#f4f5fb" stroke-width="1"/><rect x="328.65" y="0.65" width="7.70" height="7.70"/><path d="M330.40,2.40L334.60,6.60M334.60,2.40L330.40,6.60" stroke="#f4f5fb" stroke-width="1"/><rect x="330.65" y="0.65" width="7.70" height="7.70"/><path d="M332.40,2.40L336.60,6.60M336.60,2.40L332.40,6.60" stroke="#f4f5fb" stroke-width="1"/><rect x="331.65" y="0.65" width="7.70" height="7.70"/><path d="M333.40,2.40L337.60,6.60M337.60,2.40L333.40,6.60" stroke="#f4f5fb" stroke-width="1"/><rect x="332.65" y="0.65" width="7.70" height="7.70"/><path d="M334.40,2.40L338.60,6.60M338.60,2.40L334.40,6.60" stroke="#f4f5fb" stroke-width="1"/><rect x="334.65" y="0.65" width="7.70" height="7.70"/><path d="M336.40,2.40L340.60,6.60M340.60,2.40L336.40,6.60" stroke="#f4f5fb" stroke-width="1"/><rect x="335.65" y="0.65" width="7.70" height="7.70"/><path d="M337.40,2.40L341.60,6.60M341.60,2.40L337.40,6.60" stroke="#f4f5fb" stroke-width="1"/><rect x="337.65" y="0.65" width="7.70" height="7.70"/><path d="M339.40,2.40L343.60,6.60M343.60,2.40L339.40,6.60" stroke="#f4f5fb" stroke-width="1"/><rect x="338.65" y="0.65" width="7.70" height="7.70"/><path d="M340.40,2.40L344.60,6.60M344.60,2.40L340.40,6.60" stroke="#f4f5fb" stroke-width="1"/><rect x="340.65" y="1.65" width="7.70" height="7.70"/><path d="M342.40,3.40L346.60,7.60M346.60,3.40L342.40,7.60" stroke="#f4f5fb" stroke-width="1"/><rect x="341.65" y="7.65" width="7.70" height="7.70"/><path d="M343.40,9.40L347.60,13.60M347.60,9.40L343.40,13.60" stroke="#f4f5fb" stroke-width="1"/><rect x="342.65" y="11.65" width="7.70" height="7.70"/><path d="M344.40,13.40L348.60,17.60M348.60,13.40L344.40,17.60" stroke="#f4f5fb" stroke-width="1"/><rect x="344.65" y="15.65" width="7.70" height="7.70"/><path d="M346.40,17.40L350.60,21.60M350.60,17.40L346.40,21.60" stroke="#f4f5fb" stroke-width="1"/><rect x="345.65" y="19.65" width="7.70" height="7.70"/><path d="M347.40,21.40L351.60,25.60M351.60,21.40L347.40,25.60" stroke="#f4f5fb" stroke-width="1"/><rect x="347.65" y="23.65" width="7.70" height="7.70"/><path d="M349.40,25.40L353.60,29.60M353.60,25.40L349.40,29.60" stroke="#f4f5fb" stroke-width="1"/><rect x="348.65" y="22.65" width="7.70" height="7.70"/><path d="M350.40,24.40L354.60,28.60M354.60,24.40L350.40,28.60" stroke="#f4f5fb" stroke-width="1"/><rect x="349.65" y="18.65" width="7.70" height="7.70"/><path d="M351.40,20.40L355.60,24.60M355.60,20.40L351.40,24.60" stroke="#f4f5fb" stroke-width="1"/><rect x="351.65" y="14.65" width="7.70" height="7.70"/><path d="M353.40,16.40L357.60,20.60M357.60,16.40L353.40,20.60" stroke="#f4f5fb" stroke-width="1"/><rect x="352.65" y="9.65" width="7.70" height="7.70"/><path d="M354.40,11.40L358.60,15.60M358.60,11.40L354.40,15.60" stroke="#f4f5fb" stroke-width="1"/><rect x="354.65" y="6.65" width="7.70" height="7.70"/><path d="M356.40,8.40L360.60,12.60M360.60,8.40L356.40,12.60" stroke="#f4f5fb" stroke-width="1"/><rect x="355.65" y="3.65" width="7.70" height="7.70"/><path d="M357.40,5.40L361.60,9.60M361.60,5.40L357.40,9.60" stroke="#f4f5fb" stroke-width="1"/><rect x="356.65" y="1.65" width="7.70" height="7.70"/><path d="M358.40,3.40L362.60,7.60M362.60,3.40L358.40,7.60" stroke="#f4f5fb" stroke-width="1"/><rect x="358.65" y="0.65" width="7.70" height="7.70"/><path d="M360.40,2.40L364.60,6.60M364.60,2.40L360.40,6.60" stroke="#f4f5fb" stroke-width="1"/><rect x="359.65" y="0.65" width="7.70" height="7.70"/><path d="M361.40,2.40L365.60,6.60M365.60,2.40L361.40,6.60" stroke="#f4f5fb" stroke-width="1"/><rect x="361.65" y="0.65" width="7.70" height="7.70"/><path d="M363.40,2.40L367.60,6.60M367.60,2.40L363.40,6.60" stroke="#f4f5fb" stroke-width="1"/><rect x="362.65" y="0.65" width="7.70" height="7.70"/><path d="M364.40,2.40L368.60,6.60M368.60,2.40L364.40,6.60" stroke="#f4f5fb" stroke-width="1"/><rect x="364.65" y="0.65" width="7.70" height="7.70"/><path d="M366.40,2.40L370.60,6.60M370.60,2.40L366.40,6.60" stroke="#f4f5fb" stroke-width="1"/><rect x="365.65" y="0.65" width="7.70" height="7.70"/><path d="M367.40,2.40L371.60,6.60M371.60,2.40L367.40,6.60" stroke="#f4f5fb" stroke-width="1"/><rect x="366.65" y="0.65" width="7.70" height="7.70"/><path d="M368.40,2.40L372.60,6.60M372.60,2.40L368.40,6.60" stroke="#f4f5fb" stroke-width="1"/><rect x="368.65" y="0.65" width="7.70" height="7.70"/><path d="M370.40,2.40L374.60,6.60M374.60,2.40L370.40,6.60" stroke="#f4f5fb" stroke-width="1"/><rect x="369.65" y="0.65" width="7.70" height="7.70"/><path d="M371.40,2.40L375.60,6.60M375.60,2.40L371.40,6.60" stroke="#f4f5fb" stroke-width="1"/><rect x="371.65" y="3.65" width="7.70" height="7.70"/><path d="M373.40,5.40L377.60,9.60M377.60,5.40L373.40,9.60" stroke="#f4f5fb" stroke-width="1"/><rect x="372.65" y="10.65" width="7.70" height="7.70"/><path d="M374.40,12.40L378.60,16.60M378.60,12.40L374.40,16.60" stroke="#f4f5fb" stroke-width="1"/><rect x="373.65" y="24.65" width="7.70" height="7.70"/><path d="M375.40,26.40L379.60,30.60M379.60,26.40L375.40,30.60" stroke="#f4f5fb" stroke-width="1"/><rect x="375.65" y="30.65" width="7.70" height="7.70"/><path d="M377.40,32.40L381.60,36.60M381.60,32.40L377.40,36.60" stroke="#f4f5fb" stroke-width="1"/><rect x="376.65" y="33.65" width="7.70" height="7.70"/><path d="M378.40,35.40L382.60,39.60M382.60,35.40L378.40,39.60" stroke="#f4f5fb" stroke-width="1"/><rect x="378.65" y="40.65" width="7.70" height="7.70"/><path d="M380.40,42.40L384.60,46.60M384.60,42.40L380.40,46.60" stroke="#f4f5fb" stroke-width="1"/><rect x="379.65" y="47.65" width="7.70" height="7.70"/><path d="M381.40,49.40L385.60,53.60M385.60,49.40L381.40,53.60" stroke="#f4f5fb" stroke-width="1"/><rect x="380.65" y="55.65" width="7.70" height="7.70"/><path d="M382.40,57.40L386.60,61.60M386.60,57.40L382.40,61.60" stroke="#f4f5fb" stroke-width="1"/><rect x="382.65" y="63.65" width="7.70" height="7.70"/><path d="M384.40,65.40L388.60,69.60M388.60,65.40L384.40,69.60" stroke="#f4f5fb" stroke-width="1"/><rect x="383.65" y="59.65" width="7.70" height="7.70"/><path d="M385.40,61.40L389.60,65.60M389.60,61.40L385.40,65.60" stroke="#f4f5fb" stroke-width="1"/><rect x="385.65" y="48.65" width="7.70" height="7.70"/><path d="M387.40,50.40L391.60,54.60M391.60,50.40L387.40,54.60" stroke="#f4f5fb" stroke-width="1"/><rect x="386.65" y="43.65" width="7.70" height="7.70"/><path d="M388.40,45.40L392.60,49.60M392.60,45.40L388.40,49.60" stroke="#f4f5fb" stroke-width="1"/><rect x="388.65" y="37.65" width="7.70" height="7.70"/><path d="M390.40,39.40L394.60,43.60M394.60,39.40L390.40,43.60" stroke="#f4f5fb" stroke-width="1"/><rect x="389.65" y="28.65" width="7.70" height="7.70"/><path d="M391.40,30.40L395.60,34.60M395.60,30.40L391.40,34.60" stroke="#f4f5fb" stroke-width="1"/><rect x="390.65" y="17.65" width="7.70" height="7.70"/><path d="M392.40,19.40L396.60,23.60M396.60,19.40L392.40,23.60" stroke="#f4f5fb" stroke-width="1"/><rect x="392.65" y="11.65" width="7.70" height="7.70"/><path d="M394.40,13.40L398.60,17.60M398.60,13.40L394.40,17.60" stroke="#f4f5fb" stroke-width="1"/><rect x="393.65" y="2.65" width="7.70" height="7.70"/><path d="M395.40,4.40L399.60,8.60M399.60,4.40L395.40,8.60" stroke="#f4f5fb" stroke-width="1"/><rect x="395.65" y="0.65" width="7.70" height="7.70"/><path d="M397.40,2.40L401.60,6.60M401.60,2.40L397.40,6.60" stroke="#f4f5fb" stroke-width="1"/><rect x="396.65" y="0.65" width="7.70" height="7.70"/><path d="M398.40,2.40L402.60,6.60M402.60,2.40L398.40,6.60" stroke="#f4f5fb" stroke-width="1"/><rect x="397.65" y="0.65" width="7.70" height="7.70"/><path d="M399.40,2.40L403.60,6.60M403.60,2.40L399.40,6.60" stroke="#f4f5fb" stroke-width="1"/><rect x="399.65" y="0.65" width="7.70" height="7.70"/><path d="M401.40,2.40L405.60,6.60M405.60,2.40L401.40,6.60" stroke="#f4f5fb" stroke-width="1"/><rect x="400.65" y="0.65" width="7.70" height="7.70"/><path d="M402.40,2.40L406.60,6.60M406.60,2.40L402.40,6.60" stroke="#f4f5fb" stroke-width="1"/><rect x="402.65" y="0.65" width="7.70" height="7.70"/><path d="M404.40,2.40L408.60,6.60M408.60,2.40L404.40,6.60" stroke="#f4f5fb" stroke-width="1"/><rect x="403.65" y="0.65" width="7.70" height="7.70"/><path d="M405.40,2.40L409.60,6.60M409.60,2.40L405.40,6.60" stroke="#f4f5fb" stroke-width="1"/><rect x="404.65" y="0.65" width="7.70" height="7.70"/><path d="M406.40,2.40L410.60,6.60M410.60,2.40L406.40,6.60" stroke="#f4f5fb" stroke-width="1"/><rect x="406.65" y="0.65" width="7.70" height="7.70"/><path d="M408.40,2.40L412.60,6.60M412.60,2.40L408.40,6.60" stroke="#f4f5fb" stroke-width="1"/><rect x="407.65" y="0.65" width="7.70" height="7.70"/><path d="M409.40,2.40L413.60,6.60M413.60,2.40L409.40,6.60" stroke="#f4f5fb" stroke-width="1"/><rect x="409.65" y="0.65" width="7.70" height="7.70"/><path d="M411.40,2.40L415.60,6.60M415.60,2.40L411.40,6.60" stroke="#f4f5fb" stroke-width="1"/><rect x="410.65" y="0.65" width="7.70" height="7.70"/><path d="M412.40,2.40L416.60,6.60M416.60,2.40L412.40,6.60" stroke="#f4f5fb" stroke-width="1"/><rect x="412.65" y="0.65" width="7.70" height="7.70"/><path d="M414.40,2.40L418.60,6.60M418.60,2.40L414.40,6.60" stroke="#f4f5fb" stroke-width="1"/><rect x="413.65" y="6.65" width="7.70" height="7.70"/><path d="M415.40,8.40L419.60,12.60M419.60,8.40L415.40,12.60" stroke="#f4f5fb" stroke-width="1"/><rect x="414.65" y="9.65" width="7.70" height="7.70"/><path d="M416.40,11.40L420.60,15.60M420.60,11.40L416.40,15.60" stroke="#f4f5fb" stroke-width="1"/><rect x="416.65" y="12.65" width="7.70" height="7.70"/><path d="M418.40,14.40L422.60,18.60M422.60,14.40L418.40,18.60" stroke="#f4f5fb" stroke-width="1"/><rect x="417.65" y="15.65" width="7.70" height="7.70"/><path d="M419.40,17.40L423.60,21.60M423.60,17.40L419.40,21.60" stroke="#f4f5fb" stroke-width="1"/><rect x="419.65" y="18.65" width="7.70" height="7.70"/><path d="M421.40,20.40L425.60,24.60M425.60,20.40L421.40,24.60" stroke="#f4f5fb" stroke-width="1"/><rect x="420.65" y="14.65" width="7.70" height="7.70"/><path d="M422.40,16.40L426.60,20.60M426.60,16.40L422.40,20.60" stroke="#f4f5fb" stroke-width="1"/><rect x="421.65" y="9.65" width="7.70" height="7.70"/><path d="M423.40,11.40L427.60,15.60M427.60,11.40L423.40,15.60" stroke="#f4f5fb" stroke-width="1"/><rect x="423.65" y="1.65" width="7.70" height="7.70"/><path d="M425.40,3.40L429.60,7.60M429.60,3.40L425.40,7.60" stroke="#f4f5fb" stroke-width="1"/><rect x="424.65" y="0.65" width="7.70" height="7.70"/><path d="M426.40,2.40L430.60,6.60M430.60,2.40L426.40,6.60" stroke="#f4f5fb" stroke-width="1"/><rect x="426.65" y="0.65" width="7.70" height="7.70"/><path d="M428.40,2.40L432.60,6.60M432.60,2.40L428.40,6.60" stroke="#f4f5fb" stroke-width="1"/><rect x="427.65" y="0.65" width="7.70" height="7.70"/><path d="M429.40,2.40L433.60,6.60M433.60,2.40L429.40,6.60" stroke="#f4f5fb" stroke-width="1"/><rect x="428.65" y="0.65" width="7.70" height="7.70"/><path d="M430.40,2.40L434.60,6.60M434.60,2.40L430.40,6.60" stroke="#f4f5fb" stroke-width="1"/><rect x="430.65" y="0.65" width="7.70" height="7.70"/><path d="M432.40,2.40L436.60,6.60M436.60,2.40L432.40,6.60" stroke="#f4f5fb" stroke-width="1"/><rect x="431.65" y="0.65" width="7.70" height="7.70"/><path d="M433.40,2.40L437.60,6.60M437.60,2.40L433.40,6.60" stroke="#f4f5fb" stroke-width="1"/><rect x="433.65" y="0.65" width="7.70" height="7.70"/><path d="M435.40,2.40L439.60,6.60M439.60,2.40L435.40,6.60" stroke="#f4f5fb" stroke-width="1"/><rect x="434.65" y="0.65" width="7.70" height="7.70"/><path d="M436.40,2.40L440.60,6.60M440.60,2.40L436.40,6.60" stroke="#f4f5fb" stroke-width="1"/><rect x="436.65" y="0.65" width="7.70" height="7.70"/><path d="M438.40,2.40L442.60,6.60M442.60,2.40L438.40,6.60" stroke="#f4f5fb" stroke-width="1"/><rect x="437.65" y="0.65" width="7.70" height="7.70"/><path d="M439.40,2.40L443.60,6.60M443.60,2.40L439.40,6.60" stroke="#f4f5fb" stroke-width="1"/><rect x="438.65" y="0.65" width="7.70" height="7.70"/><path d="M440.40,2.40L444.60,6.60M444.60,2.40L440.40,6.60" stroke="#f4f5fb" stroke-width="1"/><rect x="440.65" y="0.65" width="7.70" height="7.70"/><path d="M442.40,2.40L446.60,6.60M446.60,2.40L442.40,6.60" stroke="#f4f5fb" stroke-width="1"/><rect x="441.65" y="0.65" width="7.70" height="7.70"/><path d="M443.40,2.40L447.60,6.60M447.60,2.40L443.40,6.60" stroke="#f4f5fb" stroke-width="1"/><rect x="443.65" y="0.65" width="7.70" height="7.70"/><path d="M445.40,2.40L449.60,6.60M449.60,2.40L445.40,6.60" stroke="#f4f5fb" stroke-width="1"/><rect x="444.65" y="0.65" width="7.70" height="7.70"/><path d="M446.40,2.40L450.60,6.60M450.60,2.40L446.40,6.60" stroke="#f4f5fb" stroke-width="1"/><rect x="445.65" y="0.65" width="7.70" height="7.70"/><path d="M447.40,2.40L451.60,6.60M451.60,2.40L447.40,6.60" stroke="#f4f5fb" stroke-width="1"/><rect x="447.65" y="0.65" width="7.70" height="7.70"/><path d="M449.40,2.40L453.60,6.60M453.60,2.40L449.40,6.60" stroke="#f4f5fb" stroke-width="1"/><rect x="448.65" y="0.65" width="7.70" height="7.70"/><path d="M450.40,2.40L454.60,6.60M454.60,2.40L450.40,6.60" stroke="#f4f5fb" stroke-width="1"/><rect x="450.65" y="0.65" width="7.70" height="7.70"/><path d="M452.40,2.40L456.60,6.60M456.60,2.40L452.40,6.60" stroke="#f4f5fb" stroke-width="1"/><rect x="451.65" y="0.65" width="7.70" height="7.70"/><path d="M453.40,2.40L457.60,6.60M457.60,2.40L453.40,6.60" stroke="#f4f5fb" stroke-width="1"/><rect x="452.65" y="0.65" width="7.70" height="7.70"/><path d="M454.40,2.40L458.60,6.60M458.60,2.40L454.40,6.60" stroke="#f4f5fb" stroke-width="1"/><rect x="454.65" y="0.65" width="7.70" height="7.70"/><path d="M456.40,2.40L460.60,6.60M460.60,2.40L456.40,6.60" stroke="#f4f5fb" stroke-width="1"/><rect x="455.65" y="0.65" width="7.70" height="7.70"/><path d="M457.40,2.40L461.60,6.60M461.60,2.40L457.40,6.60" stroke="#f4f5fb" stroke-width="1"/><rect x="457.65" y="0.65" width="7.70" height="7.70"/><path d="M459.40,2.40L463.60,6.60M463.60,2.40L459.40,6.60" stroke="#f4f5fb" stroke-width="1"/><rect x="458.65" y="0.65" width="7.70" height="7.70"/><path d="M460.40,2.40L464.60,6.60M464.60,2.40L460.40,6.60" stroke="#f4f5fb" stroke-width="1"/><rect x="460.65" y="0.65" width="7.70" height="7.70"/><path d="M462.40,2.40L466.60,6.60M466.60,2.40L462.40,6.60" stroke="#f4f5fb" stroke-width="1"/><rect x="461.65" y="0.65" width="7.70" height="7.70"/><path d="M463.40,2.40L467.60,6.60M467.60,2.40L463.40,6.60" stroke="#f4f5fb" stroke-width="1"/><rect x="462.65" y="0.65" width="7.70" height="7.70"/><path d="M464.40,2.40L468.60,6.60M468.60,2.40L464.40,6.60" stroke="#f4f5fb" stroke-width="1"/><rect x="464.65" y="0.65" width="7.70" height="7.70"/><path d="M466.40,2.40L470.60,6.60M470.60,2.40L466.40,6.60" stroke="#f4f5fb" stroke-width="1"/><rect x="465.65" y="0.65" width="7.70" height="7.70"/><path d="M467.40,2.40L471.60,6.60M471.60,2.40L467.40,6.60" stroke="#f4f5fb" stroke-width="1"/><rect x="467.65" y="0.65" width="7.70" height="7.70"/><path d="M469.40,2.40L473.60,6.60M473.60,2.40L469.40,6.60" stroke="#f4f5fb" stroke-width="1"/><rect x="468.65" y="0.65" width="7.70" height="7.70"/><path d="M470.40,2.40L474.60,6.60M474.60,2.40L470.40,6.60" stroke="#f4f5fb" stroke-width="1"/><rect x="469.65" y="0.65" width="7.70" height="7.70"/><path d="M471.40,2.40L475.60,6.60M475.60,2.40L471.40,6.60" stroke="#f4f5fb" stroke-width="1"/><rect x="471.65" y="0.65" width="7.70" height="7.70"/><path d="M473.40,2.40L477.60,6.60M477.60,2.40L473.40,6.60" stroke="#f4f5fb" stroke-width="1"/><rect x="472.65" y="0.65" width="7.70" height="7.70"/><path d="M474.40,2.40L478.60,6.60M478.60,2.40L474.40,6.60" stroke="#f4f5fb" stroke-width="1"/><rect x="474.65" y="1.65" width="7.70" height="7.70"/><path d="M476.40,3.40L480.60,7.60M480.60,3.40L476.40,7.60" stroke="#f4f5fb" stroke-width="1"/><rect x="475.65" y="1.65" width="7.70" height="7.70"/><path d="M477.40,3.40L481.60,7.60M481.60,3.40L477.40,7.60" stroke="#f4f5fb" stroke-width="1"/><rect x="476.65" y="12.65" width="7.70" height="7.70"/><path d="M478.40,14.40L482.60,18.60M482.60,14.40L478.40,18.60" stroke="#f4f5fb" stroke-width="1"/><rect x="478.65" y="26.65" width="7.70" height="7.70"/><path d="M480.40,28.40L484.60,32.60M484.60,28.40L480.40,32.60" stroke="#f4f5fb" stroke-width="1"/><rect x="479.65" y="36.65" width="7.70" height="7.70"/><path d="M481.40,38.40L485.60,42.60M485.60,38.40L481.40,42.60" stroke="#f4f5fb" stroke-width="1"/><rect x="481.65" y="40.65" width="7.70" height="7.70"/><path d="M483.40,42.40L487.60,46.60M487.60,42.40L483.40,46.60" stroke="#f4f5fb" stroke-width="1"/><rect x="482.65" y="34.65" width="7.70" height="7.70"/><path d="M484.40,36.40L488.60,40.60M488.60,36.40L484.40,40.60" stroke="#f4f5fb" stroke-width="1"/><rect x="484.65" y="26.65" width="7.70" height="7.70"/><path d="M486.40,28.40L490.60,32.60M490.60,28.40L486.40,32.60" stroke="#f4f5fb" stroke-width="1"/><rect x="485.65" y="18.65" width="7.70" height="7.70"/><path d="M487.40,20.40L491.60,24.60M491.60,20.40L487.40,24.60" stroke="#f4f5fb" stroke-width="1"/><rect x="486.65" y="7.65" width="7.70" height="7.70"/><path d="M488.40,9.40L492.60,13.60M492.60,9.40L488.40,13.60" stroke="#f4f5fb" stroke-width="1"/><rect x="488.65" y="1.65" width="7.70" height="7.70"/><path d="M490.40,3.40L494.60,7.60M494.60,3.40L490.40,7.60" stroke="#f4f5fb" stroke-width="1"/><rect x="489.65" y="0.65" width="7.70" height="7.70"/><path d="M491.40,2.40L495.60,6.60M495.60,2.40L491.40,6.60" stroke="#f4f5fb" stroke-width="1"/><rect x="491.65" y="0.65" width="7.70" height="7.70"/><path d="M493.40,2.40L497.60,6.60M497.60,2.40L493.40,6.60" stroke="#f4f5fb" stroke-width="1"/><rect x="492.65" y="0.65" width="7.70" height="7.70"/><path d="M494.40,2.40L498.60,6.60M498.60,2.40L494.40,6.60" stroke="#f4f5fb" stroke-width="1"/><rect x="493.65" y="0.65" width="7.70" height="7.70"/><path d="M495.40,2.40L499.60,6.60M499.60,2.40L495.40,6.60" stroke="#f4f5fb" stroke-width="1"/><rect x="495.65" y="0.65" width="7.70" height="7.70"/><path d="M497.40,2.40L501.60,6.60M501.60,2.40L497.40,6.60" stroke="#f4f5fb" stroke-width="1"/><rect x="496.65" y="0.65" width="7.70" height="7.70"/><path d="M498.40,2.40L502.60,6.60M502.60,2.40L498.40,6.60" stroke="#f4f5fb" stroke-width="1"/><rect x="498.65" y="0.65" width="7.70" height="7.70"/><path d="M500.40,2.40L504.60,6.60M504.60,2.40L500.40,6.60" stroke="#f4f5fb" stroke-width="1"/><rect x="499.65" y="0.65" width="7.70" height="7.70"/><path d="M501.40,2.40L505.60,6.60M505.60,2.40L501.40,6.60" stroke="#f4f5fb" stroke-width="1"/><rect x="500.65" y="0.65" width="7.70" height="7.70"/><path d="M502.40,2.40L506.60,6.60M506.60,2.40L502.40,6.60" stroke="#f4f5fb" stroke-width="1"/><rect x="502.65" y="0.65" width="7.70" height="7.70"/><path d="M504.40,2.40L508.60,6.60M508.60,2.40L504.40,6.60" stroke="#f4f5fb" stroke-width="1"/><rect x="503.65" y="0.65" width="7.70" height="7.70"/><path d="M505.40,2.40L509.60,6.60M509.60,2.40L505.40,6.60" stroke="#f4f5fb" stroke-width="1"/><rect x="505.65" y="0.65" width="7.70" height="7.70"/><path d="M507.40,2.40L511.60,6.60M511.60,2.40L507.40,6.60" stroke="#f4f5fb" stroke-width="1"/><rect x="506.65" y="0.65" width="7.70" height="7.70"/><path d="M508.40,2.40L512.60,6.60M512.60,2.40L508.40,6.60" stroke="#f4f5fb" stroke-width="1"/><rect x="508.65" y="0.65" width="7.70" height="7.70"/><path d="M510.40,2.40L514.60,6.60M514.60,2.40L510.40,6.60" stroke="#f4f5fb" stroke-width="1"/><rect x="509.65" y="0.65" width="7.70" height="7.70"/><path d="M511.40,2.40L515.60,6.60M515.60,2.40L511.40,6.60" stroke="#f4f5fb" stroke-width="1"/><rect x="510.65" y="0.65" width="7.70" height="7.70"/><path d="M512.40,2.40L516.60,6.60M516.60,2.40L512.40,6.60" stroke="#f4f5fb" stroke-width="1"/><rect x="512.65" y="0.65" width="7.70" height="7.70"/><path d="M514.40,2.40L518.60,6.60M518.60,2.40L514.40,6.60" stroke="#f4f5fb" stroke-width="1"/><rect x="513.65" y="0.65" width="7.70" height="7.70"/><path d="M515.40,2.40L519.60,6.60M519.60,2.40L515.40,6.60" stroke="#f4f5fb" stroke-width="1"/><rect x="515.65" y="0.65" width="7.70" height="7.70"/><path d="M517.40,2.40L521.60,6.60M521.60,2.40L517.40,6.60" stroke="#f4f5fb" stroke-width="1"/><rect x="516.65" y="0.65" width="7.70" height="7.70"/><path d="M518.40,2.40L522.60,6.60M522.60,2.40L518.40,6.60" stroke="#f4f5fb" stroke-width="1"/><rect x="517.65" y="6.65" width="7.70" height="7.70"/><path d="M519.40,8.40L523.60,12.60M523.60,8.40L519.40,12.60" stroke="#f4f5fb" stroke-width="1"/><rect x="519.65" y="6.65" width="7.70" height="7.70"/><path d="M521.40,8.40L525.60,12.60M525.60,8.40L521.40,12.60" stroke="#f4f5fb" stroke-width="1"/><rect x="520.65" y="0.65" width="7.70" height="7.70"/><path d="M522.40,2.40L526.60,6.60M526.60,2.40L522.40,6.60" stroke="#f4f5fb" stroke-width="1"/><rect x="522.65" y="0.65" width="7.70" height="7.70"/><path d="M524.40,2.40L528.60,6.60M528.60,2.40L524.40,6.60" stroke="#f4f5fb" stroke-width="1"/><rect x="523.65" y="0.65" width="7.70" height="7.70"/><path d="M525.40,2.40L529.60,6.60M529.60,2.40L525.40,6.60" stroke="#f4f5fb" stroke-width="1"/><rect x="524.65" y="0.65" width="7.70" height="7.70"/><path d="M526.40,2.40L530.60,6.60M530.60,2.40L526.40,6.60" stroke="#f4f5fb" stroke-width="1"/><rect x="526.65" y="0.65" width="7.70" height="7.70"/><path d="M528.40,2.40L532.60,6.60M532.60,2.40L528.40,6.60" stroke="#f4f5fb" stroke-width="1"/><rect x="527.65" y="0.65" width="7.70" height="7.70"/><path d="M529.40,2.40L533.60,6.60M533.60,2.40L529.40,6.60" stroke="#f4f5fb" stroke-width="1"/><rect x="529.65" y="1.65" width="7.70" height="7.70"/><path d="M531.40,3.40L535.60,7.60M535.60,3.40L531.40,7.60" stroke="#f4f5fb" stroke-width="1"/><rect x="530.65" y="2.65" width="7.70" height="7.70"/><path d="M532.40,4.40L536.60,8.60M536.60,4.40L532.40,8.60" stroke="#f4f5fb" stroke-width="1"/><rect x="532.65" y="3.65" width="7.70" height="7.70"/><path d="M534.40,5.40L538.60,9.60M538.60,5.40L534.40,9.60" stroke="#f4f5fb" stroke-width="1"/><rect x="533.65" y="7.65" width="7.70" height="7.70"/><path d="M535.40,9.40L539.60,13.60M539.60,9.40L535.40,13.60" stroke="#f4f5fb" stroke-width="1"/><rect x="534.65" y="10.65" width="7.70" height="7.70"/><path d="M536.40,12.40L540.60,16.60M540.60,12.40L536.40,16.60" stroke="#f4f5fb" stroke-width="1"/><rect x="536.65" y="13.65" width="7.70" height="7.70"/><path d="M538.40,15.40L542.60,19.60M542.60,15.40L538.40,19.60" stroke="#f4f5fb" stroke-width="1"/><rect x="537.65" y="12.65" width="7.70" height="7.70"/><path d="M539.40,14.40L543.60,18.60M543.60,14.40L539.40,18.60" stroke="#f4f5fb" stroke-width="1"/><rect x="539.65" y="6.65" width="7.70" height="7.70"/><path d="M541.40,8.40L545.60,12.60M545.60,8.40L541.40,12.60" stroke="#f4f5fb" stroke-width="1"/><rect x="540.65" y="7.65" width="7.70" height="7.70"/><path d="M542.40,9.40L546.60,13.60M546.60,9.40L542.40,13.60" stroke="#f4f5fb" stroke-width="1"/><rect x="541.65" y="25.65" width="7.70" height="7.70"/><path d="M543.40,27.40L547.60,31.60M547.60,27.40L543.40,31.60" stroke="#f4f5fb" stroke-width="1"/><rect x="543.65" y="36.65" width="7.70" height="7.70"/><path d="M545.40,38.40L549.60,42.60M549.60,38.40L545.40,42.60" stroke="#f4f5fb" stroke-width="1"/><rect x="544.65" y="41.65" width="7.70" height="7.70"/><path d="M546.40,43.40L550.60,47.60M550.60,43.40L546.40,47.60" stroke="#f4f5fb" stroke-width="1"/><rect x="546.65" y="58.65" width="7.70" height="7.70"/><path d="M548.40,60.40L552.60,64.60M552.60,60.40L548.40,64.60" stroke="#f4f5fb" stroke-width="1"/><rect x="547.65" y="73.65" width="7.70" height="7.70"/><path d="M549.40,75.40L553.60,79.60M553.60,75.40L549.40,79.60" stroke="#f4f5fb" stroke-width="1"/><rect x="548.65" y="82.65" width="7.70" height="7.70"/><path d="M550.40,84.40L554.60,88.60M554.60,84.40L550.40,88.60" stroke="#f4f5fb" stroke-width="1"/><rect x="550.65" y="90.65" width="7.70" height="7.70"/><path d="M552.40,92.40L556.60,96.60M556.60,92.40L552.40,96.60" stroke="#f4f5fb" stroke-width="1"/><rect x="551.65" y="91.65" width="7.70" height="7.70"/><path d="M553.40,93.40L557.60,97.60M557.60,93.40L553.40,97.60" stroke="#f4f5fb" stroke-width="1"/><rect x="553.65" y="76.65" width="7.70" height="7.70"/><path d="M555.40,78.40L559.60,82.60M559.60,78.40L555.40,82.60" stroke="#f4f5fb" stroke-width="1"/><rect x="554.65" y="66.65" width="7.70" height="7.70"/><path d="M556.40,68.40L560.60,72.60M560.60,68.40L556.40,72.60" stroke="#f4f5fb" stroke-width="1"/><rect x="556.65" y="39.65" width="7.70" height="7.70"/><path d="M558.40,41.40L562.60,45.60M562.60,41.40L558.40,45.60" stroke="#f4f5fb" stroke-width="1"/><rect x="557.65" y="16.65" width="7.70" height="7.70"/><path d="M559.40,18.40L563.60,22.60M563.60,18.40L559.40,22.60" stroke="#f4f5fb" stroke-width="1"/><rect x="558.65" y="8.65" width="7.70" height="7.70"/><path d="M560.40,10.40L564.60,14.60M564.60,10.40L560.40,14.60" stroke="#f4f5fb" stroke-width="1"/><rect x="560.65" y="1.65" width="7.70" height="7.70"/><path d="M562.40,3.40L566.60,7.60M566.60,3.40L562.40,7.60" stroke="#f4f5fb" stroke-width="1"/><rect x="561.65" y="0.65" width="7.70" height="7.70"/><path d="M563.40,2.40L567.60,6.60M567.60,2.40L563.40,6.60" stroke="#f4f5fb" stroke-width="1"/><rect x="563.65" y="0.65" width="7.70" height="7.70"/><path d="M565.40,2.40L569.60,6.60M569.60,2.40L565.40,6.60" stroke="#f4f5fb" stroke-width="1"/></g>
</g>
<text x="49.3" y="219.5" text-anchor="end" font-size="12.5">0</text>
<text x="49.3" y="189.5" text-anchor="end" font-size="12.5">5</text>
<text x="49.3" y="159.5" text-anchor="end" font-size="12.5">10</text>
<text x="49.3" y="129.5" text-anchor="end" font-size="12.5">15</text>
<text x="49.3" y="99.5" text-anchor="end" font-size="12.5">20</text>
<text x="49.3" y="69.5" text-anchor="end" font-size="12.5">25</text>
<text x="49.3" y="39.5" text-anchor="end" font-size="12.5">30</text>
<text x="49.3" y="9.5" text-anchor="end" font-size="12.5">35</text>
<text x="578" y="219.5" font-size="12.5">0</text>
<text x="578" y="198.5" font-size="12.5">10</text>
<text x="578" y="177.5" font-size="12.5">20</text>
<text x="578" y="156.5" font-size="12.5">30</text>
<text x="578" y="135.5" font-size="12.5">40</text>
<text x="578" y="114.5" font-size="12.5">50</text>
<text x="578" y="93.5" font-size="12.5">60</text>
<text x="578" y="72.5" font-size="12.5">70</text>
<text x="578" y="51.5" font-size="12.5">80</text>
<text x="578" y="30.5" font-size="12.5">90</text>
<text x="578" y="9.5" font-size="12.5">100</text>
<text transform="translate(62.60,229.5) rotate(-45)" text-anchor="end" font-size="12" dy="3.8">18/8/2003 00:00</text>
<text transform="translate(96.48,229.5) rotate(-45)" text-anchor="end" font-size="12" dy="3.8">19/8/2003 00:00</text>
<text transform="translate(130.36,229.5) rotate(-45)" text-anchor="end" font-size="12" dy="3.8">20/8/2003 00:00</text>
<text transform="translate(164.24,229.5) rotate(-45)" text-anchor="end" font-size="12" dy="3.8">21/8/2003 00:00</text>
<text transform="translate(198.12,229.5) rotate(-45)" text-anchor="end" font-size="12" dy="3.8">22/8/2003 00:00</text>
<text transform="translate(232.00,229.5) rotate(-45)" text-anchor="end" font-size="12" dy="3.8">23/8/2003 00:00</text>
<text transform="translate(265.88,229.5) rotate(-45)" text-anchor="end" font-size="12" dy="3.8">24/8/2003 00:00</text>
<text transform="translate(299.76,229.5) rotate(-45)" text-anchor="end" font-size="12" dy="3.8">25/8/2003 00:00</text>
<text transform="translate(333.64,229.5) rotate(-45)" text-anchor="end" font-size="12" dy="3.8">26/8/2003 00:00</text>
<text transform="translate(367.52,229.5) rotate(-45)" text-anchor="end" font-size="12" dy="3.8">27/8/2003 00:00</text>
<text transform="translate(401.40,229.5) rotate(-45)" text-anchor="end" font-size="12" dy="3.8">28/8/2003 00:00</text>
<text transform="translate(435.28,229.5) rotate(-45)" text-anchor="end" font-size="12" dy="3.8">29/8/2003 00:00</text>
<text transform="translate(469.16,229.5) rotate(-45)" text-anchor="end" font-size="12" dy="3.8">30/8/2003 00:00</text>
<text transform="translate(503.04,229.5) rotate(-45)" text-anchor="end" font-size="12" dy="3.8">31/8/2003 00:00</text>
<text transform="translate(536.92,229.5) rotate(-45)" text-anchor="end" font-size="12" dy="3.8">1/9/2003 00:00</text>
<text transform="translate(570.80,229.5) rotate(-45)" text-anchor="end" font-size="12" dy="3.8">2/9/2003 00:00</text>
<text x="309.5" y="306.8" text-anchor="middle" font-size="12.5">DATE</text>
<text transform="translate(9.3,113) rotate(-90) scale(1,1.16)" text-anchor="middle" font-size="9.8" stroke="#000" stroke-width="0.3">TEMPERATURE (°C) - WIND SPEED (dm/s)</text>
<text transform="translate(606.8,105.8) rotate(-90) scale(1,1.08)" text-anchor="middle" font-size="12">RH (%)</text>
<line x1="359" y1="169" x2="381" y2="169" stroke="#7f8fbf" stroke-width="1.5"/>
<path d="M369.80,165.20L373.60,169.00L369.80,172.80L366.00,169.00Z" fill="#cfcfd4" stroke="#1f3577" stroke-width="0.9"/>
<text x="384" y="173" font-size="11.2">Temperature</text>
<line x1="359" y1="185.5" x2="381" y2="185.5" stroke="#000" stroke-width="1.5"/>
<text x="384" y="189.5" font-size="11.2">wind speed</text>
<line x1="359" y1="201.5" x2="381" y2="201.5" stroke="#6676a6" stroke-width="1.3"/>
<g fill="#1b2f6e"><rect x="366.10" y="197.70" width="7.80" height="7.80"/><path d="M367.90,199.50L372.10,203.70M372.10,199.50L367.90,203.70" stroke="#f4f5fb" stroke-width="1"/></g>
<text x="384" y="205.5" font-size="11.2">RH</text>
</svg>
</body></html>
